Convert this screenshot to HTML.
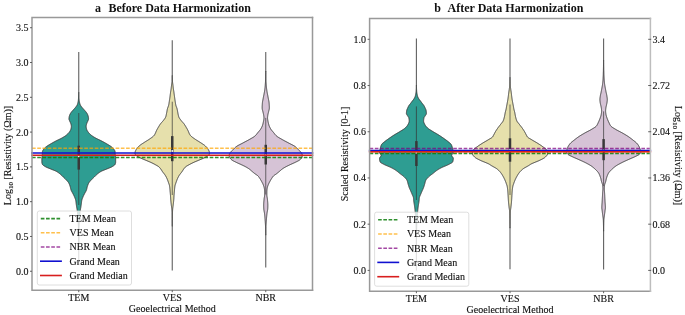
<!DOCTYPE html>
<html><head><meta charset="utf-8"><style>
html,body{margin:0;padding:0;background:#fff;}
svg{display:block;will-change:transform;}
.t{font-family:"Liberation Serif",serif;font-size:10px;fill:#111;stroke:#111;stroke-width:0.12px;}
.tt{font-family:"Liberation Serif",serif;font-size:12px;font-weight:bold;fill:#111;white-space:pre;}
</style></head><body>
<svg width="685" height="315" viewBox="0 0 685 315">
<rect width="685" height="315" fill="#fff"/>
<line x1="78.75" y1="52" x2="78.75" y2="92.55" stroke="#606060" stroke-width="1.1"/>
<line x1="78.75" y1="245.70" x2="78.75" y2="265" stroke="#606060" stroke-width="1.1"/>
<path d="M78.75,92.25 L78.70,92.50 L78.69,92.75 L78.68,93.00 L78.67,93.25 L78.66,93.50 L78.66,93.75 L78.65,94.00 L78.64,94.25 L78.64,94.50 L78.63,94.75 L78.62,95.00 L78.61,95.25 L78.61,95.50 L78.60,95.75 L78.59,96.00 L78.58,96.25 L78.57,96.50 L78.56,96.75 L78.55,97.00 L78.54,97.25 L78.53,97.50 L78.51,97.75 L78.50,98.00 L78.49,98.25 L78.47,98.50 L78.46,98.75 L78.44,99.00 L78.43,99.25 L78.41,99.50 L78.39,99.75 L78.37,100.00 L78.35,100.25 L78.32,100.50 L78.29,100.75 L78.25,101.00 L78.21,101.25 L78.16,101.50 L78.11,101.75 L78.06,102.00 L78.00,102.25 L77.95,102.50 L77.89,102.75 L77.83,103.00 L77.77,103.25 L77.70,103.50 L77.63,103.75 L77.55,104.00 L77.46,104.25 L77.37,104.50 L77.27,104.75 L77.16,105.00 L77.03,105.25 L76.88,105.50 L76.72,105.75 L76.55,106.00 L76.37,106.25 L76.18,106.50 L75.99,106.75 L75.80,107.00 L75.61,107.25 L75.42,107.50 L75.21,107.75 L74.99,108.00 L74.77,108.25 L74.55,108.50 L74.32,108.75 L74.10,109.00 L73.87,109.25 L73.65,109.50 L73.43,109.75 L73.20,110.00 L72.97,110.25 L72.74,110.50 L72.52,110.75 L72.29,111.00 L72.07,111.25 L71.86,111.50 L71.66,111.75 L71.48,112.00 L71.29,112.25 L71.10,112.50 L70.92,112.75 L70.75,113.00 L70.58,113.25 L70.43,113.50 L70.28,113.75 L70.15,114.00 L70.03,114.25 L69.92,114.50 L69.81,114.75 L69.71,115.00 L69.61,115.25 L69.52,115.50 L69.44,115.75 L69.36,116.00 L69.30,116.25 L69.25,116.50 L69.20,116.75 L69.16,117.00 L69.12,117.25 L69.07,117.50 L69.04,117.75 L69.01,118.00 L68.98,118.25 L68.96,118.50 L68.95,118.75 L68.95,119.00 L68.98,119.25 L69.04,119.50 L69.12,119.75 L69.22,120.00 L69.33,120.25 L69.44,120.50 L69.55,120.75 L69.65,121.00 L69.75,121.25 L69.86,121.50 L69.98,121.75 L70.11,122.00 L70.23,122.25 L70.35,122.50 L70.47,122.75 L70.57,123.00 L70.67,123.25 L70.75,123.50 L70.82,123.75 L70.89,124.00 L70.97,124.25 L71.04,124.50 L71.10,124.75 L71.16,125.00 L71.22,125.25 L71.27,125.50 L71.31,125.75 L71.33,126.00 L71.35,126.25 L71.35,126.50 L71.34,126.75 L71.32,127.00 L71.29,127.25 L71.26,127.50 L71.21,127.75 L71.17,128.00 L71.11,128.25 L71.05,128.50 L70.99,128.75 L70.93,129.00 L70.86,129.25 L70.79,129.50 L70.70,129.75 L70.60,130.00 L70.48,130.25 L70.35,130.50 L70.20,130.75 L70.05,131.00 L69.89,131.25 L69.72,131.50 L69.54,131.75 L69.37,132.00 L69.19,132.25 L69.00,132.50 L68.80,132.75 L68.59,133.00 L68.36,133.25 L68.13,133.50 L67.88,133.75 L67.62,134.00 L67.35,134.25 L67.07,134.50 L66.79,134.75 L66.49,135.00 L66.19,135.25 L65.87,135.50 L65.54,135.75 L65.18,136.00 L64.81,136.25 L64.43,136.50 L64.04,136.75 L63.63,137.00 L63.22,137.25 L62.79,137.50 L62.36,137.75 L61.93,138.00 L61.48,138.25 L61.01,138.50 L60.52,138.75 L60.01,139.00 L59.49,139.25 L58.96,139.50 L58.43,139.75 L57.89,140.00 L57.36,140.25 L56.84,140.50 L56.34,140.75 L55.85,141.00 L55.38,141.25 L54.91,141.50 L54.44,141.75 L53.98,142.00 L53.53,142.25 L53.08,142.50 L52.63,142.75 L52.19,143.00 L51.76,143.25 L51.33,143.50 L50.90,143.75 L50.48,144.00 L50.06,144.25 L49.63,144.50 L49.21,144.75 L48.79,145.00 L48.37,145.25 L47.96,145.50 L47.57,145.75 L47.18,146.00 L46.81,146.25 L46.46,146.50 L46.14,146.75 L45.83,147.00 L45.53,147.25 L45.25,147.50 L44.97,147.75 L44.70,148.00 L44.45,148.25 L44.21,148.50 L43.99,148.75 L43.79,149.00 L43.62,149.25 L43.44,149.50 L43.27,149.75 L43.10,150.00 L42.94,150.25 L42.80,150.50 L42.67,150.75 L42.57,151.00 L42.49,151.25 L42.45,151.50 L42.42,151.75 L42.40,152.00 L42.39,152.25 L42.37,152.50 L42.36,152.75 L42.35,153.00 L42.34,153.25 L42.33,153.50 L42.32,153.75 L42.31,154.00 L42.30,154.25 L42.28,154.50 L42.27,154.75 L42.25,155.00 L42.23,155.25 L42.20,155.50 L42.17,155.75 L42.13,156.00 L42.09,156.25 L42.06,156.50 L42.02,156.75 L41.98,157.00 L41.94,157.25 L41.91,157.50 L41.89,157.75 L41.87,158.00 L41.85,158.25 L41.85,158.50 L41.85,158.75 L41.85,159.00 L41.85,159.25 L41.85,159.50 L41.85,159.75 L41.85,160.00 L41.85,160.25 L41.85,160.50 L41.85,160.75 L41.85,161.00 L41.85,161.25 L41.85,161.50 L41.85,161.75 L41.85,162.00 L41.86,162.25 L41.88,162.50 L41.92,162.75 L41.97,163.00 L42.04,163.25 L42.11,163.50 L42.20,163.75 L42.29,164.00 L42.39,164.25 L42.50,164.50 L42.67,164.75 L42.90,165.00 L43.19,165.25 L43.52,165.50 L43.89,165.75 L44.28,166.00 L44.70,166.25 L45.11,166.50 L45.53,166.75 L46.00,167.00 L46.51,167.25 L47.07,167.50 L47.66,167.75 L48.28,168.00 L48.90,168.25 L49.53,168.50 L50.15,168.75 L50.75,169.00 L51.35,169.25 L51.98,169.50 L52.62,169.75 L53.27,170.00 L53.90,170.25 L54.53,170.50 L55.12,170.75 L55.67,171.00 L56.18,171.25 L56.62,171.50 L57.04,171.75 L57.44,172.00 L57.82,172.25 L58.19,172.50 L58.54,172.75 L58.87,173.00 L59.20,173.25 L59.51,173.50 L59.82,173.75 L60.12,174.00 L60.41,174.25 L60.70,174.50 L60.98,174.75 L61.26,175.00 L61.53,175.25 L61.79,175.50 L62.04,175.75 L62.28,176.00 L62.52,176.25 L62.76,176.50 L63.00,176.75 L63.25,177.00 L63.51,177.25 L63.77,177.50 L64.04,177.75 L64.31,178.00 L64.58,178.25 L64.85,178.50 L65.11,178.75 L65.36,179.00 L65.61,179.25 L65.85,179.50 L66.08,179.75 L66.32,180.00 L66.55,180.25 L66.79,180.50 L67.02,180.75 L67.25,181.00 L67.47,181.25 L67.69,181.50 L67.89,181.75 L68.09,182.00 L68.27,182.25 L68.45,182.50 L68.61,182.75 L68.75,183.00 L68.88,183.25 L69.01,183.50 L69.13,183.75 L69.24,184.00 L69.35,184.25 L69.45,184.50 L69.55,184.75 L69.64,185.00 L69.73,185.25 L69.82,185.50 L69.91,185.75 L69.99,186.00 L70.07,186.25 L70.15,186.50 L70.22,186.75 L70.29,187.00 L70.36,187.25 L70.42,187.50 L70.48,187.75 L70.53,188.00 L70.59,188.25 L70.64,188.50 L70.70,188.75 L70.76,189.00 L70.82,189.25 L70.89,189.50 L70.97,189.75 L71.05,190.00 L71.14,190.25 L71.25,190.50 L71.36,190.75 L71.48,191.00 L71.61,191.25 L71.74,191.50 L71.88,191.75 L72.02,192.00 L72.17,192.25 L72.31,192.50 L72.45,192.75 L72.59,193.00 L72.72,193.25 L72.85,193.50 L72.98,193.75 L73.10,194.00 L73.23,194.25 L73.36,194.50 L73.49,194.75 L73.62,195.00 L73.74,195.25 L73.87,195.50 L73.99,195.75 L74.11,196.00 L74.23,196.25 L74.34,196.50 L74.45,196.75 L74.55,197.00 L74.65,197.25 L74.75,197.50 L74.85,197.75 L74.95,198.00 L75.05,198.25 L75.15,198.50 L75.24,198.75 L75.33,199.00 L75.42,199.25 L75.50,199.50 L75.57,199.75 L75.64,200.00 L75.70,200.25 L75.75,200.50 L75.80,200.75 L75.84,201.00 L75.87,201.25 L75.91,201.50 L75.94,201.75 L75.97,202.00 L76.00,202.25 L76.03,202.50 L76.06,202.75 L76.09,203.00 L76.12,203.25 L76.15,203.50 L76.18,203.75 L76.22,204.00 L76.25,204.25 L76.29,204.50 L76.32,204.75 L76.36,205.00 L76.39,205.25 L76.43,205.50 L76.46,205.75 L76.50,206.00 L76.54,206.25 L76.57,206.50 L76.61,206.75 L76.65,207.00 L76.69,207.25 L76.73,207.50 L76.78,207.75 L76.82,208.00 L76.87,208.25 L76.92,208.50 L76.96,208.75 L77.01,209.00 L77.05,209.25 L77.09,209.50 L77.13,209.75 L77.16,210.00 L77.20,210.25 L77.23,210.50 L77.26,210.75 L77.29,211.00 L77.33,211.25 L77.36,211.50 L77.39,211.75 L77.42,212.00 L77.45,212.25 L77.48,212.50 L77.51,212.75 L77.53,213.00 L77.56,213.25 L77.59,213.50 L77.62,213.75 L77.64,214.00 L77.67,214.25 L77.69,214.50 L77.72,214.75 L77.74,215.00 L77.77,215.25 L77.79,215.50 L77.81,215.75 L77.83,216.00 L77.85,216.25 L77.87,216.50 L77.89,216.75 L77.91,217.00 L77.93,217.25 L77.95,217.50 L77.97,217.75 L77.99,218.00 L78.00,218.25 L78.02,218.50 L78.04,218.75 L78.05,219.00 L78.07,219.25 L78.09,219.50 L78.10,219.75 L78.12,220.00 L78.13,220.25 L78.15,220.50 L78.16,220.75 L78.18,221.00 L78.19,221.25 L78.21,221.50 L78.22,221.75 L78.24,222.00 L78.25,222.25 L78.26,222.50 L78.28,222.75 L78.29,223.00 L78.30,223.25 L78.31,223.50 L78.33,223.75 L78.34,224.00 L78.35,224.25 L78.36,224.50 L78.37,224.75 L78.38,225.00 L78.39,225.25 L78.40,225.50 L78.41,225.75 L78.42,226.00 L78.43,226.25 L78.44,226.50 L78.45,226.75 L78.45,227.00 L78.46,227.25 L78.47,227.50 L78.48,227.75 L78.48,228.00 L78.49,228.25 L78.50,228.50 L78.50,228.75 L78.51,229.00 L78.52,229.25 L78.52,229.50 L78.53,229.75 L78.54,230.00 L78.54,230.25 L78.55,230.50 L78.56,230.75 L78.56,231.00 L78.57,231.25 L78.57,231.50 L78.58,231.75 L78.58,232.00 L78.59,232.25 L78.59,232.50 L78.60,232.75 L78.60,233.00 L78.61,233.25 L78.61,233.50 L78.61,233.75 L78.62,234.00 L78.62,234.25 L78.62,234.50 L78.63,234.75 L78.63,235.00 L78.63,235.25 L78.64,235.50 L78.64,235.75 L78.64,236.00 L78.64,236.25 L78.64,236.50 L78.65,236.75 L78.65,237.00 L78.65,237.25 L78.65,237.50 L78.65,237.75 L78.65,238.00 L78.66,238.25 L78.66,238.50 L78.66,238.75 L78.66,239.00 L78.66,239.25 L78.66,239.50 L78.66,239.75 L78.66,240.00 L78.67,240.25 L78.67,240.50 L78.67,240.75 L78.67,241.00 L78.67,241.25 L78.67,241.50 L78.67,241.75 L78.68,242.00 L78.68,242.25 L78.68,242.50 L78.68,242.75 L78.68,243.00 L78.68,243.25 L78.69,243.50 L78.69,243.75 L78.69,244.00 L78.69,244.25 L78.69,244.50 L78.70,244.75 L78.70,245.00 L78.70,245.25 L78.71,245.50 L78.71,245.75 L78.75,246.00 L78.75,246.00 L78.79,245.75 L78.79,245.50 L78.80,245.25 L78.80,245.00 L78.80,244.75 L78.81,244.50 L78.81,244.25 L78.81,244.00 L78.81,243.75 L78.81,243.50 L78.82,243.25 L78.82,243.00 L78.82,242.75 L78.82,242.50 L78.82,242.25 L78.82,242.00 L78.83,241.75 L78.83,241.50 L78.83,241.25 L78.83,241.00 L78.83,240.75 L78.83,240.50 L78.83,240.25 L78.84,240.00 L78.84,239.75 L78.84,239.50 L78.84,239.25 L78.84,239.00 L78.84,238.75 L78.84,238.50 L78.84,238.25 L78.85,238.00 L78.85,237.75 L78.85,237.50 L78.85,237.25 L78.85,237.00 L78.85,236.75 L78.86,236.50 L78.86,236.25 L78.86,236.00 L78.86,235.75 L78.86,235.50 L78.87,235.25 L78.87,235.00 L78.87,234.75 L78.88,234.50 L78.88,234.25 L78.88,234.00 L78.89,233.75 L78.89,233.50 L78.89,233.25 L78.90,233.00 L78.90,232.75 L78.91,232.50 L78.91,232.25 L78.92,232.00 L78.92,231.75 L78.93,231.50 L78.93,231.25 L78.94,231.00 L78.94,230.75 L78.95,230.50 L78.96,230.25 L78.96,230.00 L78.97,229.75 L78.98,229.50 L78.98,229.25 L78.99,229.00 L79.00,228.75 L79.00,228.50 L79.01,228.25 L79.02,228.00 L79.02,227.75 L79.03,227.50 L79.04,227.25 L79.05,227.00 L79.05,226.75 L79.06,226.50 L79.07,226.25 L79.08,226.00 L79.09,225.75 L79.10,225.50 L79.11,225.25 L79.12,225.00 L79.13,224.75 L79.14,224.50 L79.15,224.25 L79.16,224.00 L79.17,223.75 L79.19,223.50 L79.20,223.25 L79.21,223.00 L79.22,222.75 L79.24,222.50 L79.25,222.25 L79.26,222.00 L79.28,221.75 L79.29,221.50 L79.31,221.25 L79.32,221.00 L79.34,220.75 L79.35,220.50 L79.37,220.25 L79.38,220.00 L79.40,219.75 L79.41,219.50 L79.43,219.25 L79.45,219.00 L79.46,218.75 L79.48,218.50 L79.50,218.25 L79.51,218.00 L79.53,217.75 L79.55,217.50 L79.57,217.25 L79.59,217.00 L79.61,216.75 L79.63,216.50 L79.65,216.25 L79.67,216.00 L79.69,215.75 L79.71,215.50 L79.73,215.25 L79.76,215.00 L79.78,214.75 L79.81,214.50 L79.83,214.25 L79.86,214.00 L79.88,213.75 L79.91,213.50 L79.94,213.25 L79.97,213.00 L79.99,212.75 L80.02,212.50 L80.05,212.25 L80.08,212.00 L80.11,211.75 L80.14,211.50 L80.17,211.25 L80.21,211.00 L80.24,210.75 L80.27,210.50 L80.30,210.25 L80.34,210.00 L80.37,209.75 L80.41,209.50 L80.45,209.25 L80.49,209.00 L80.54,208.75 L80.58,208.50 L80.63,208.25 L80.68,208.00 L80.72,207.75 L80.77,207.50 L80.81,207.25 L80.85,207.00 L80.89,206.75 L80.93,206.50 L80.96,206.25 L81.00,206.00 L81.04,205.75 L81.07,205.50 L81.11,205.25 L81.14,205.00 L81.18,204.75 L81.21,204.50 L81.25,204.25 L81.28,204.00 L81.32,203.75 L81.35,203.50 L81.38,203.25 L81.41,203.00 L81.44,202.75 L81.47,202.50 L81.50,202.25 L81.53,202.00 L81.56,201.75 L81.59,201.50 L81.63,201.25 L81.66,201.00 L81.70,200.75 L81.75,200.50 L81.80,200.25 L81.86,200.00 L81.93,199.75 L82.00,199.50 L82.08,199.25 L82.17,199.00 L82.26,198.75 L82.35,198.50 L82.45,198.25 L82.55,198.00 L82.65,197.75 L82.75,197.50 L82.85,197.25 L82.95,197.00 L83.05,196.75 L83.16,196.50 L83.27,196.25 L83.39,196.00 L83.51,195.75 L83.63,195.50 L83.76,195.25 L83.88,195.00 L84.01,194.75 L84.14,194.50 L84.27,194.25 L84.40,194.00 L84.52,193.75 L84.65,193.50 L84.78,193.25 L84.91,193.00 L85.05,192.75 L85.19,192.50 L85.33,192.25 L85.48,192.00 L85.62,191.75 L85.76,191.50 L85.89,191.25 L86.02,191.00 L86.14,190.75 L86.25,190.50 L86.36,190.25 L86.45,190.00 L86.53,189.75 L86.61,189.50 L86.68,189.25 L86.74,189.00 L86.80,188.75 L86.86,188.50 L86.91,188.25 L86.97,188.00 L87.02,187.75 L87.08,187.50 L87.14,187.25 L87.21,187.00 L87.28,186.75 L87.35,186.50 L87.43,186.25 L87.51,186.00 L87.59,185.75 L87.68,185.50 L87.77,185.25 L87.86,185.00 L87.95,184.75 L88.05,184.50 L88.15,184.25 L88.26,184.00 L88.37,183.75 L88.49,183.50 L88.62,183.25 L88.75,183.00 L88.89,182.75 L89.05,182.50 L89.23,182.25 L89.41,182.00 L89.61,181.75 L89.81,181.50 L90.03,181.25 L90.25,181.00 L90.48,180.75 L90.71,180.50 L90.95,180.25 L91.18,180.00 L91.42,179.75 L91.65,179.50 L91.89,179.25 L92.14,179.00 L92.39,178.75 L92.65,178.50 L92.92,178.25 L93.19,178.00 L93.46,177.75 L93.73,177.50 L93.99,177.25 L94.25,177.00 L94.50,176.75 L94.74,176.50 L94.98,176.25 L95.22,176.00 L95.46,175.75 L95.71,175.50 L95.97,175.25 L96.24,175.00 L96.52,174.75 L96.80,174.50 L97.09,174.25 L97.38,174.00 L97.68,173.75 L97.99,173.50 L98.30,173.25 L98.63,173.00 L98.96,172.75 L99.31,172.50 L99.68,172.25 L100.06,172.00 L100.46,171.75 L100.88,171.50 L101.32,171.25 L101.83,171.00 L102.38,170.75 L102.97,170.50 L103.60,170.25 L104.23,170.00 L104.88,169.75 L105.52,169.50 L106.15,169.25 L106.75,169.00 L107.35,168.75 L107.97,168.50 L108.60,168.25 L109.22,168.00 L109.84,167.75 L110.43,167.50 L110.99,167.25 L111.50,167.00 L111.97,166.75 L112.39,166.50 L112.80,166.25 L113.22,166.00 L113.61,165.75 L113.98,165.50 L114.31,165.25 L114.60,165.00 L114.83,164.75 L115.00,164.50 L115.11,164.25 L115.21,164.00 L115.30,163.75 L115.39,163.50 L115.46,163.25 L115.53,163.00 L115.58,162.75 L115.62,162.50 L115.64,162.25 L115.65,162.00 L115.65,161.75 L115.65,161.50 L115.65,161.25 L115.65,161.00 L115.65,160.75 L115.65,160.50 L115.65,160.25 L115.65,160.00 L115.65,159.75 L115.65,159.50 L115.65,159.25 L115.65,159.00 L115.65,158.75 L115.65,158.50 L115.65,158.25 L115.63,158.00 L115.61,157.75 L115.59,157.50 L115.56,157.25 L115.52,157.00 L115.48,156.75 L115.44,156.50 L115.41,156.25 L115.37,156.00 L115.33,155.75 L115.30,155.50 L115.27,155.25 L115.25,155.00 L115.23,154.75 L115.22,154.50 L115.20,154.25 L115.19,154.00 L115.18,153.75 L115.17,153.50 L115.16,153.25 L115.15,153.00 L115.14,152.75 L115.13,152.50 L115.11,152.25 L115.10,152.00 L115.08,151.75 L115.05,151.50 L115.01,151.25 L114.93,151.00 L114.83,150.75 L114.70,150.50 L114.56,150.25 L114.40,150.00 L114.23,149.75 L114.06,149.50 L113.88,149.25 L113.71,149.00 L113.51,148.75 L113.29,148.50 L113.05,148.25 L112.80,148.00 L112.53,147.75 L112.25,147.50 L111.97,147.25 L111.67,147.00 L111.36,146.75 L111.04,146.50 L110.69,146.25 L110.32,146.00 L109.93,145.75 L109.54,145.50 L109.13,145.25 L108.71,145.00 L108.29,144.75 L107.87,144.50 L107.44,144.25 L107.02,144.00 L106.60,143.75 L106.17,143.50 L105.74,143.25 L105.31,143.00 L104.87,142.75 L104.42,142.50 L103.97,142.25 L103.52,142.00 L103.06,141.75 L102.59,141.50 L102.12,141.25 L101.65,141.00 L101.16,140.75 L100.66,140.50 L100.14,140.25 L99.61,140.00 L99.07,139.75 L98.54,139.50 L98.01,139.25 L97.49,139.00 L96.98,138.75 L96.49,138.50 L96.02,138.25 L95.57,138.00 L95.14,137.75 L94.71,137.50 L94.28,137.25 L93.87,137.00 L93.46,136.75 L93.07,136.50 L92.69,136.25 L92.32,136.00 L91.96,135.75 L91.63,135.50 L91.31,135.25 L91.01,135.00 L90.71,134.75 L90.43,134.50 L90.15,134.25 L89.88,134.00 L89.62,133.75 L89.37,133.50 L89.14,133.25 L88.91,133.00 L88.70,132.75 L88.50,132.50 L88.31,132.25 L88.13,132.00 L87.96,131.75 L87.78,131.50 L87.61,131.25 L87.45,131.00 L87.30,130.75 L87.15,130.50 L87.02,130.25 L86.90,130.00 L86.80,129.75 L86.71,129.50 L86.64,129.25 L86.57,129.00 L86.51,128.75 L86.45,128.50 L86.39,128.25 L86.33,128.00 L86.29,127.75 L86.24,127.50 L86.21,127.25 L86.18,127.00 L86.16,126.75 L86.15,126.50 L86.15,126.25 L86.17,126.00 L86.19,125.75 L86.23,125.50 L86.28,125.25 L86.34,125.00 L86.40,124.75 L86.46,124.50 L86.53,124.25 L86.61,124.00 L86.68,123.75 L86.75,123.50 L86.83,123.25 L86.93,123.00 L87.03,122.75 L87.15,122.50 L87.27,122.25 L87.39,122.00 L87.52,121.75 L87.64,121.50 L87.75,121.25 L87.85,121.00 L87.95,120.75 L88.06,120.50 L88.17,120.25 L88.28,120.00 L88.38,119.75 L88.46,119.50 L88.52,119.25 L88.55,119.00 L88.55,118.75 L88.54,118.50 L88.52,118.25 L88.49,118.00 L88.46,117.75 L88.43,117.50 L88.38,117.25 L88.34,117.00 L88.30,116.75 L88.25,116.50 L88.20,116.25 L88.14,116.00 L88.06,115.75 L87.98,115.50 L87.89,115.25 L87.79,115.00 L87.69,114.75 L87.58,114.50 L87.47,114.25 L87.35,114.00 L87.22,113.75 L87.07,113.50 L86.92,113.25 L86.75,113.00 L86.58,112.75 L86.40,112.50 L86.21,112.25 L86.02,112.00 L85.84,111.75 L85.64,111.50 L85.43,111.25 L85.21,111.00 L84.98,110.75 L84.76,110.50 L84.53,110.25 L84.30,110.00 L84.07,109.75 L83.85,109.50 L83.63,109.25 L83.40,109.00 L83.18,108.75 L82.95,108.50 L82.73,108.25 L82.51,108.00 L82.29,107.75 L82.08,107.50 L81.89,107.25 L81.70,107.00 L81.51,106.75 L81.32,106.50 L81.13,106.25 L80.95,106.00 L80.78,105.75 L80.62,105.50 L80.47,105.25 L80.34,105.00 L80.23,104.75 L80.13,104.50 L80.04,104.25 L79.95,104.00 L79.87,103.75 L79.80,103.50 L79.73,103.25 L79.67,103.00 L79.61,102.75 L79.55,102.50 L79.50,102.25 L79.44,102.00 L79.39,101.75 L79.34,101.50 L79.29,101.25 L79.25,101.00 L79.21,100.75 L79.18,100.50 L79.15,100.25 L79.13,100.00 L79.11,99.75 L79.09,99.50 L79.07,99.25 L79.06,99.00 L79.04,98.75 L79.03,98.50 L79.01,98.25 L79.00,98.00 L78.99,97.75 L78.97,97.50 L78.96,97.25 L78.95,97.00 L78.94,96.75 L78.93,96.50 L78.92,96.25 L78.91,96.00 L78.90,95.75 L78.89,95.50 L78.89,95.25 L78.88,95.00 L78.87,94.75 L78.86,94.50 L78.86,94.25 L78.85,94.00 L78.84,93.75 L78.84,93.50 L78.83,93.25 L78.82,93.00 L78.81,92.75 L78.80,92.50 L78.75,92.25 Z" fill="#2e9d92" stroke="#3a3a3a" stroke-width="1.0" stroke-linejoin="round"/>
<line x1="78.75" y1="113.00" x2="78.75" y2="205.00" stroke="#333333" stroke-width="0.7"/>
<line x1="78.75" y1="145.7" x2="78.75" y2="169.6" stroke="#383838" stroke-width="2.5"/>
<circle cx="78.75" cy="156.2" r="1.0" fill="#f4f4f4"/>
<line x1="172.25" y1="40.2" x2="172.25" y2="76.00" stroke="#606060" stroke-width="1.1"/>
<line x1="172.25" y1="225.90" x2="172.25" y2="270.5" stroke="#606060" stroke-width="1.1"/>
<path d="M172.25,75.70 L172.20,75.95 L172.19,76.20 L172.18,76.45 L172.18,76.70 L172.17,76.95 L172.16,77.20 L172.15,77.45 L172.15,77.70 L172.14,77.95 L172.13,78.20 L172.13,78.45 L172.12,78.70 L172.11,78.95 L172.10,79.20 L172.09,79.45 L172.08,79.70 L172.07,79.95 L172.06,80.20 L172.05,80.45 L172.03,80.70 L172.02,80.95 L172.00,81.20 L171.99,81.45 L171.97,81.70 L171.95,81.95 L171.93,82.20 L171.90,82.45 L171.88,82.70 L171.85,82.95 L171.82,83.20 L171.78,83.45 L171.74,83.70 L171.70,83.95 L171.67,84.20 L171.63,84.45 L171.59,84.70 L171.56,84.95 L171.53,85.20 L171.50,85.45 L171.47,85.70 L171.44,85.95 L171.41,86.20 L171.38,86.45 L171.36,86.70 L171.33,86.95 L171.30,87.20 L171.28,87.45 L171.25,87.70 L171.22,87.95 L171.19,88.20 L171.16,88.45 L171.12,88.70 L171.09,88.95 L171.05,89.20 L171.01,89.45 L170.98,89.70 L170.94,89.95 L170.90,90.20 L170.86,90.45 L170.81,90.70 L170.77,90.95 L170.73,91.20 L170.69,91.45 L170.65,91.70 L170.62,91.95 L170.58,92.20 L170.54,92.45 L170.51,92.70 L170.47,92.95 L170.44,93.20 L170.41,93.45 L170.38,93.70 L170.34,93.95 L170.31,94.20 L170.28,94.45 L170.25,94.70 L170.22,94.95 L170.19,95.20 L170.15,95.45 L170.12,95.70 L170.09,95.95 L170.06,96.20 L170.02,96.45 L169.99,96.70 L169.96,96.95 L169.92,97.20 L169.89,97.45 L169.85,97.70 L169.82,97.95 L169.78,98.20 L169.74,98.45 L169.71,98.70 L169.67,98.95 L169.63,99.20 L169.60,99.45 L169.56,99.70 L169.52,99.95 L169.48,100.20 L169.45,100.45 L169.41,100.70 L169.37,100.95 L169.33,101.20 L169.29,101.45 L169.25,101.70 L169.21,101.95 L169.17,102.20 L169.13,102.45 L169.10,102.70 L169.06,102.95 L169.02,103.20 L168.98,103.45 L168.94,103.70 L168.90,103.95 L168.85,104.20 L168.81,104.45 L168.76,104.70 L168.71,104.95 L168.65,105.20 L168.59,105.45 L168.52,105.70 L168.43,105.95 L168.35,106.20 L168.25,106.45 L168.16,106.70 L168.06,106.95 L167.96,107.20 L167.86,107.45 L167.77,107.70 L167.68,107.95 L167.60,108.20 L167.52,108.45 L167.45,108.70 L167.39,108.95 L167.33,109.20 L167.28,109.45 L167.22,109.70 L167.17,109.95 L167.12,110.20 L167.08,110.45 L167.03,110.70 L166.99,110.95 L166.94,111.20 L166.90,111.45 L166.85,111.70 L166.81,111.95 L166.76,112.20 L166.72,112.45 L166.67,112.70 L166.62,112.95 L166.57,113.20 L166.52,113.45 L166.47,113.70 L166.42,113.95 L166.37,114.20 L166.32,114.45 L166.27,114.70 L166.22,114.95 L166.17,115.20 L166.12,115.45 L166.06,115.70 L166.00,115.95 L165.93,116.20 L165.86,116.45 L165.78,116.70 L165.70,116.95 L165.59,117.20 L165.48,117.45 L165.34,117.70 L165.20,117.95 L165.05,118.20 L164.88,118.45 L164.71,118.70 L164.53,118.95 L164.35,119.20 L164.16,119.45 L163.97,119.70 L163.78,119.95 L163.60,120.20 L163.41,120.45 L163.22,120.70 L163.02,120.95 L162.80,121.20 L162.59,121.45 L162.36,121.70 L162.13,121.95 L161.90,122.20 L161.67,122.45 L161.44,122.70 L161.22,122.95 L161.00,123.20 L160.80,123.45 L160.60,123.70 L160.41,123.95 L160.24,124.20 L160.06,124.45 L159.89,124.70 L159.73,124.95 L159.57,125.20 L159.41,125.45 L159.26,125.70 L159.10,125.95 L158.95,126.20 L158.81,126.45 L158.66,126.70 L158.51,126.95 L158.37,127.20 L158.22,127.45 L158.08,127.70 L157.93,127.95 L157.79,128.20 L157.64,128.45 L157.50,128.70 L157.36,128.95 L157.22,129.20 L157.09,129.45 L156.95,129.70 L156.82,129.95 L156.69,130.20 L156.57,130.45 L156.45,130.70 L156.33,130.95 L156.21,131.20 L156.11,131.45 L156.01,131.70 L155.91,131.95 L155.81,132.20 L155.71,132.45 L155.61,132.70 L155.50,132.95 L155.39,133.20 L155.27,133.45 L155.15,133.70 L155.02,133.95 L154.89,134.20 L154.75,134.45 L154.60,134.70 L154.45,134.95 L154.27,135.20 L154.09,135.45 L153.88,135.70 L153.65,135.95 L153.40,136.20 L153.12,136.45 L152.82,136.70 L152.51,136.95 L152.18,137.20 L151.85,137.45 L151.50,137.70 L151.15,137.95 L150.79,138.20 L150.43,138.45 L150.07,138.70 L149.72,138.95 L149.37,139.20 L149.00,139.45 L148.62,139.70 L148.23,139.95 L147.83,140.20 L147.43,140.45 L147.03,140.70 L146.62,140.95 L146.21,141.20 L145.80,141.45 L145.40,141.70 L145.00,141.95 L144.61,142.20 L144.23,142.45 L143.85,142.70 L143.46,142.95 L143.08,143.20 L142.69,143.45 L142.30,143.70 L141.91,143.95 L141.53,144.20 L141.16,144.45 L140.79,144.70 L140.44,144.95 L140.10,145.20 L139.78,145.45 L139.48,145.70 L139.20,145.95 L138.94,146.20 L138.69,146.45 L138.44,146.70 L138.20,146.95 L137.97,147.20 L137.75,147.45 L137.53,147.70 L137.32,147.95 L137.12,148.20 L136.94,148.45 L136.76,148.70 L136.59,148.95 L136.43,149.20 L136.28,149.45 L136.14,149.70 L136.00,149.95 L135.86,150.20 L135.73,150.45 L135.61,150.70 L135.49,150.95 L135.39,151.20 L135.30,151.45 L135.22,151.70 L135.16,151.95 L135.11,152.20 L135.06,152.45 L135.02,152.70 L134.99,152.95 L134.96,153.20 L134.95,153.45 L134.97,153.70 L135.04,153.95 L135.16,154.20 L135.32,154.45 L135.52,154.70 L135.73,154.95 L135.97,155.20 L136.21,155.45 L136.45,155.70 L136.75,155.95 L137.11,156.20 L137.52,156.45 L137.96,156.70 L138.44,156.95 L138.93,157.20 L139.44,157.45 L139.95,157.70 L140.45,157.95 L140.97,158.20 L141.51,158.45 L142.08,158.70 L142.66,158.95 L143.26,159.20 L143.86,159.45 L144.46,159.70 L145.06,159.95 L145.65,160.20 L146.24,160.45 L146.84,160.70 L147.44,160.95 L148.04,161.20 L148.65,161.45 L149.24,161.70 L149.82,161.95 L150.39,162.20 L150.94,162.45 L151.47,162.70 L152.00,162.95 L152.51,163.20 L153.01,163.45 L153.51,163.70 L153.99,163.95 L154.46,164.20 L154.92,164.45 L155.37,164.70 L155.81,164.95 L156.26,165.20 L156.70,165.45 L157.14,165.70 L157.57,165.95 L157.97,166.20 L158.35,166.45 L158.69,166.70 L158.99,166.95 L159.26,167.20 L159.51,167.45 L159.73,167.70 L159.94,167.95 L160.14,168.20 L160.33,168.45 L160.52,168.70 L160.70,168.95 L160.88,169.20 L161.06,169.45 L161.23,169.70 L161.39,169.95 L161.55,170.20 L161.71,170.45 L161.87,170.70 L162.02,170.95 L162.18,171.20 L162.35,171.45 L162.52,171.70 L162.70,171.95 L162.88,172.20 L163.07,172.45 L163.27,172.70 L163.47,172.95 L163.66,173.20 L163.86,173.45 L164.06,173.70 L164.26,173.95 L164.45,174.20 L164.64,174.45 L164.82,174.70 L164.99,174.95 L165.16,175.20 L165.32,175.45 L165.47,175.70 L165.62,175.95 L165.76,176.20 L165.90,176.45 L166.04,176.70 L166.17,176.95 L166.30,177.20 L166.43,177.45 L166.55,177.70 L166.67,177.95 L166.79,178.20 L166.91,178.45 L167.02,178.70 L167.13,178.95 L167.24,179.20 L167.34,179.45 L167.44,179.70 L167.54,179.95 L167.64,180.20 L167.73,180.45 L167.82,180.70 L167.91,180.95 L168.00,181.20 L168.09,181.45 L168.18,181.70 L168.26,181.95 L168.35,182.20 L168.43,182.45 L168.52,182.70 L168.61,182.95 L168.70,183.20 L168.79,183.45 L168.88,183.70 L168.97,183.95 L169.06,184.20 L169.15,184.45 L169.23,184.70 L169.30,184.95 L169.37,185.20 L169.44,185.45 L169.49,185.70 L169.54,185.95 L169.58,186.20 L169.62,186.45 L169.65,186.70 L169.69,186.95 L169.72,187.20 L169.75,187.45 L169.77,187.70 L169.80,187.95 L169.83,188.20 L169.85,188.45 L169.87,188.70 L169.89,188.95 L169.92,189.20 L169.94,189.45 L169.96,189.70 L169.98,189.95 L170.00,190.20 L170.03,190.45 L170.05,190.70 L170.07,190.95 L170.10,191.20 L170.12,191.45 L170.14,191.70 L170.17,191.95 L170.19,192.20 L170.21,192.45 L170.24,192.70 L170.26,192.95 L170.28,193.20 L170.30,193.45 L170.32,193.70 L170.34,193.95 L170.36,194.20 L170.38,194.45 L170.40,194.70 L170.42,194.95 L170.44,195.20 L170.46,195.45 L170.48,195.70 L170.49,195.95 L170.51,196.20 L170.53,196.45 L170.54,196.70 L170.56,196.95 L170.57,197.20 L170.58,197.45 L170.60,197.70 L170.61,197.95 L170.63,198.20 L170.64,198.45 L170.66,198.70 L170.67,198.95 L170.69,199.20 L170.71,199.45 L170.73,199.70 L170.75,199.95 L170.77,200.20 L170.79,200.45 L170.81,200.70 L170.83,200.95 L170.86,201.20 L170.88,201.45 L170.91,201.70 L170.94,201.95 L170.96,202.20 L170.99,202.45 L171.02,202.70 L171.05,202.95 L171.08,203.20 L171.10,203.45 L171.13,203.70 L171.16,203.95 L171.19,204.20 L171.22,204.45 L171.25,204.70 L171.28,204.95 L171.31,205.20 L171.35,205.45 L171.38,205.70 L171.42,205.95 L171.45,206.20 L171.49,206.45 L171.53,206.70 L171.57,206.95 L171.60,207.20 L171.64,207.45 L171.67,207.70 L171.70,207.95 L171.74,208.20 L171.76,208.45 L171.79,208.70 L171.82,208.95 L171.84,209.20 L171.85,209.45 L171.87,209.70 L171.88,209.95 L171.90,210.20 L171.91,210.45 L171.93,210.70 L171.94,210.95 L171.95,211.20 L171.96,211.45 L171.97,211.70 L171.98,211.95 L171.99,212.20 L172.00,212.45 L172.01,212.70 L172.02,212.95 L172.03,213.20 L172.04,213.45 L172.04,213.70 L172.05,213.95 L172.05,214.20 L172.06,214.45 L172.07,214.70 L172.07,214.95 L172.08,215.20 L172.08,215.45 L172.09,215.70 L172.09,215.95 L172.10,216.20 L172.10,216.45 L172.10,216.70 L172.11,216.95 L172.11,217.20 L172.12,217.45 L172.12,217.70 L172.12,217.95 L172.13,218.20 L172.13,218.45 L172.13,218.70 L172.14,218.95 L172.14,219.20 L172.14,219.45 L172.15,219.70 L172.15,219.95 L172.15,220.20 L172.16,220.45 L172.16,220.70 L172.16,220.95 L172.16,221.20 L172.17,221.45 L172.17,221.70 L172.17,221.95 L172.17,222.20 L172.17,222.45 L172.18,222.70 L172.18,222.95 L172.18,223.20 L172.18,223.45 L172.18,223.70 L172.19,223.95 L172.19,224.20 L172.19,224.45 L172.19,224.70 L172.20,224.95 L172.20,225.20 L172.20,225.45 L172.21,225.70 L172.21,225.95 L172.25,226.20 L172.25,226.20 L172.29,225.95 L172.29,225.70 L172.30,225.45 L172.30,225.20 L172.30,224.95 L172.31,224.70 L172.31,224.45 L172.31,224.20 L172.31,223.95 L172.32,223.70 L172.32,223.45 L172.32,223.20 L172.32,222.95 L172.32,222.70 L172.33,222.45 L172.33,222.20 L172.33,221.95 L172.33,221.70 L172.33,221.45 L172.34,221.20 L172.34,220.95 L172.34,220.70 L172.34,220.45 L172.35,220.20 L172.35,219.95 L172.35,219.70 L172.36,219.45 L172.36,219.20 L172.36,218.95 L172.37,218.70 L172.37,218.45 L172.37,218.20 L172.38,217.95 L172.38,217.70 L172.38,217.45 L172.39,217.20 L172.39,216.95 L172.40,216.70 L172.40,216.45 L172.40,216.20 L172.41,215.95 L172.41,215.70 L172.42,215.45 L172.42,215.20 L172.43,214.95 L172.43,214.70 L172.44,214.45 L172.45,214.20 L172.45,213.95 L172.46,213.70 L172.46,213.45 L172.47,213.20 L172.48,212.95 L172.49,212.70 L172.50,212.45 L172.51,212.20 L172.52,211.95 L172.53,211.70 L172.54,211.45 L172.55,211.20 L172.56,210.95 L172.57,210.70 L172.59,210.45 L172.60,210.20 L172.62,209.95 L172.63,209.70 L172.65,209.45 L172.66,209.20 L172.68,208.95 L172.71,208.70 L172.74,208.45 L172.76,208.20 L172.80,207.95 L172.83,207.70 L172.86,207.45 L172.90,207.20 L172.93,206.95 L172.97,206.70 L173.01,206.45 L173.05,206.20 L173.08,205.95 L173.12,205.70 L173.15,205.45 L173.19,205.20 L173.22,204.95 L173.25,204.70 L173.28,204.45 L173.31,204.20 L173.34,203.95 L173.37,203.70 L173.40,203.45 L173.42,203.20 L173.45,202.95 L173.48,202.70 L173.51,202.45 L173.54,202.20 L173.56,201.95 L173.59,201.70 L173.62,201.45 L173.64,201.20 L173.67,200.95 L173.69,200.70 L173.71,200.45 L173.73,200.20 L173.75,199.95 L173.77,199.70 L173.79,199.45 L173.81,199.20 L173.83,198.95 L173.84,198.70 L173.86,198.45 L173.87,198.20 L173.89,197.95 L173.90,197.70 L173.92,197.45 L173.93,197.20 L173.94,196.95 L173.96,196.70 L173.97,196.45 L173.99,196.20 L174.01,195.95 L174.02,195.70 L174.04,195.45 L174.06,195.20 L174.08,194.95 L174.10,194.70 L174.12,194.45 L174.14,194.20 L174.16,193.95 L174.18,193.70 L174.20,193.45 L174.22,193.20 L174.24,192.95 L174.26,192.70 L174.29,192.45 L174.31,192.20 L174.33,191.95 L174.36,191.70 L174.38,191.45 L174.40,191.20 L174.43,190.95 L174.45,190.70 L174.47,190.45 L174.50,190.20 L174.52,189.95 L174.54,189.70 L174.56,189.45 L174.58,189.20 L174.61,188.95 L174.63,188.70 L174.65,188.45 L174.67,188.20 L174.70,187.95 L174.73,187.70 L174.75,187.45 L174.78,187.20 L174.81,186.95 L174.85,186.70 L174.88,186.45 L174.92,186.20 L174.96,185.95 L175.01,185.70 L175.06,185.45 L175.13,185.20 L175.20,184.95 L175.27,184.70 L175.35,184.45 L175.44,184.20 L175.53,183.95 L175.62,183.70 L175.71,183.45 L175.80,183.20 L175.89,182.95 L175.98,182.70 L176.07,182.45 L176.15,182.20 L176.24,181.95 L176.32,181.70 L176.41,181.45 L176.50,181.20 L176.59,180.95 L176.68,180.70 L176.77,180.45 L176.86,180.20 L176.96,179.95 L177.06,179.70 L177.16,179.45 L177.26,179.20 L177.37,178.95 L177.48,178.70 L177.59,178.45 L177.71,178.20 L177.83,177.95 L177.95,177.70 L178.07,177.45 L178.20,177.20 L178.33,176.95 L178.46,176.70 L178.60,176.45 L178.74,176.20 L178.88,175.95 L179.03,175.70 L179.18,175.45 L179.34,175.20 L179.51,174.95 L179.68,174.70 L179.86,174.45 L180.05,174.20 L180.24,173.95 L180.44,173.70 L180.64,173.45 L180.84,173.20 L181.03,172.95 L181.23,172.70 L181.43,172.45 L181.62,172.20 L181.80,171.95 L181.98,171.70 L182.15,171.45 L182.32,171.20 L182.48,170.95 L182.63,170.70 L182.79,170.45 L182.95,170.20 L183.11,169.95 L183.27,169.70 L183.44,169.45 L183.62,169.20 L183.80,168.95 L183.98,168.70 L184.17,168.45 L184.36,168.20 L184.56,167.95 L184.77,167.70 L184.99,167.45 L185.24,167.20 L185.51,166.95 L185.81,166.70 L186.15,166.45 L186.53,166.20 L186.93,165.95 L187.36,165.70 L187.80,165.45 L188.24,165.20 L188.69,164.95 L189.13,164.70 L189.58,164.45 L190.04,164.20 L190.51,163.95 L190.99,163.70 L191.49,163.45 L191.99,163.20 L192.50,162.95 L193.03,162.70 L193.56,162.45 L194.11,162.20 L194.68,161.95 L195.26,161.70 L195.85,161.45 L196.46,161.20 L197.06,160.95 L197.66,160.70 L198.26,160.45 L198.85,160.20 L199.44,159.95 L200.04,159.70 L200.64,159.45 L201.24,159.20 L201.84,158.95 L202.42,158.70 L202.99,158.45 L203.53,158.20 L204.05,157.95 L204.55,157.70 L205.06,157.45 L205.57,157.20 L206.06,156.95 L206.54,156.70 L206.98,156.45 L207.39,156.20 L207.75,155.95 L208.05,155.70 L208.29,155.45 L208.53,155.20 L208.77,154.95 L208.98,154.70 L209.18,154.45 L209.34,154.20 L209.46,153.95 L209.53,153.70 L209.55,153.45 L209.54,153.20 L209.51,152.95 L209.48,152.70 L209.44,152.45 L209.39,152.20 L209.34,151.95 L209.28,151.70 L209.20,151.45 L209.11,151.20 L209.01,150.95 L208.89,150.70 L208.77,150.45 L208.64,150.20 L208.50,149.95 L208.36,149.70 L208.22,149.45 L208.07,149.20 L207.91,148.95 L207.74,148.70 L207.56,148.45 L207.38,148.20 L207.18,147.95 L206.97,147.70 L206.75,147.45 L206.53,147.20 L206.30,146.95 L206.06,146.70 L205.81,146.45 L205.56,146.20 L205.30,145.95 L205.02,145.70 L204.72,145.45 L204.40,145.20 L204.06,144.95 L203.71,144.70 L203.34,144.45 L202.97,144.20 L202.59,143.95 L202.20,143.70 L201.81,143.45 L201.42,143.20 L201.04,142.95 L200.65,142.70 L200.27,142.45 L199.89,142.20 L199.50,141.95 L199.10,141.70 L198.70,141.45 L198.29,141.20 L197.88,140.95 L197.47,140.70 L197.07,140.45 L196.67,140.20 L196.27,139.95 L195.88,139.70 L195.50,139.45 L195.13,139.20 L194.78,138.95 L194.43,138.70 L194.07,138.45 L193.71,138.20 L193.35,137.95 L193.00,137.70 L192.65,137.45 L192.32,137.20 L191.99,136.95 L191.68,136.70 L191.38,136.45 L191.10,136.20 L190.85,135.95 L190.62,135.70 L190.41,135.45 L190.23,135.20 L190.05,134.95 L189.90,134.70 L189.75,134.45 L189.61,134.20 L189.48,133.95 L189.35,133.70 L189.23,133.45 L189.11,133.20 L189.00,132.95 L188.89,132.70 L188.79,132.45 L188.69,132.20 L188.59,131.95 L188.49,131.70 L188.39,131.45 L188.29,131.20 L188.17,130.95 L188.05,130.70 L187.93,130.45 L187.81,130.20 L187.68,129.95 L187.55,129.70 L187.41,129.45 L187.28,129.20 L187.14,128.95 L187.00,128.70 L186.86,128.45 L186.71,128.20 L186.57,127.95 L186.42,127.70 L186.28,127.45 L186.13,127.20 L185.99,126.95 L185.84,126.70 L185.69,126.45 L185.55,126.20 L185.40,125.95 L185.24,125.70 L185.09,125.45 L184.93,125.20 L184.77,124.95 L184.61,124.70 L184.44,124.45 L184.26,124.20 L184.09,123.95 L183.90,123.70 L183.70,123.45 L183.50,123.20 L183.28,122.95 L183.06,122.70 L182.83,122.45 L182.60,122.20 L182.37,121.95 L182.14,121.70 L181.91,121.45 L181.70,121.20 L181.48,120.95 L181.28,120.70 L181.09,120.45 L180.90,120.20 L180.72,119.95 L180.53,119.70 L180.34,119.45 L180.15,119.20 L179.97,118.95 L179.79,118.70 L179.62,118.45 L179.45,118.20 L179.30,117.95 L179.16,117.70 L179.02,117.45 L178.91,117.20 L178.80,116.95 L178.72,116.70 L178.64,116.45 L178.57,116.20 L178.50,115.95 L178.44,115.70 L178.38,115.45 L178.33,115.20 L178.28,114.95 L178.23,114.70 L178.18,114.45 L178.13,114.20 L178.08,113.95 L178.03,113.70 L177.98,113.45 L177.93,113.20 L177.88,112.95 L177.83,112.70 L177.78,112.45 L177.74,112.20 L177.69,111.95 L177.65,111.70 L177.60,111.45 L177.56,111.20 L177.51,110.95 L177.47,110.70 L177.42,110.45 L177.38,110.20 L177.33,109.95 L177.28,109.70 L177.22,109.45 L177.17,109.20 L177.11,108.95 L177.05,108.70 L176.98,108.45 L176.90,108.20 L176.82,107.95 L176.73,107.70 L176.64,107.45 L176.54,107.20 L176.44,106.95 L176.34,106.70 L176.25,106.45 L176.15,106.20 L176.07,105.95 L175.98,105.70 L175.91,105.45 L175.85,105.20 L175.79,104.95 L175.74,104.70 L175.69,104.45 L175.65,104.20 L175.60,103.95 L175.56,103.70 L175.52,103.45 L175.48,103.20 L175.44,102.95 L175.40,102.70 L175.37,102.45 L175.33,102.20 L175.29,101.95 L175.25,101.70 L175.21,101.45 L175.17,101.20 L175.13,100.95 L175.09,100.70 L175.05,100.45 L175.02,100.20 L174.98,99.95 L174.94,99.70 L174.90,99.45 L174.87,99.20 L174.83,98.95 L174.79,98.70 L174.76,98.45 L174.72,98.20 L174.68,97.95 L174.65,97.70 L174.61,97.45 L174.58,97.20 L174.54,96.95 L174.51,96.70 L174.48,96.45 L174.44,96.20 L174.41,95.95 L174.38,95.70 L174.35,95.45 L174.31,95.20 L174.28,94.95 L174.25,94.70 L174.22,94.45 L174.19,94.20 L174.16,93.95 L174.12,93.70 L174.09,93.45 L174.06,93.20 L174.03,92.95 L173.99,92.70 L173.96,92.45 L173.92,92.20 L173.88,91.95 L173.85,91.70 L173.81,91.45 L173.77,91.20 L173.73,90.95 L173.69,90.70 L173.64,90.45 L173.60,90.20 L173.56,89.95 L173.52,89.70 L173.49,89.45 L173.45,89.20 L173.41,88.95 L173.38,88.70 L173.34,88.45 L173.31,88.20 L173.28,87.95 L173.25,87.70 L173.22,87.45 L173.20,87.20 L173.17,86.95 L173.14,86.70 L173.12,86.45 L173.09,86.20 L173.06,85.95 L173.03,85.70 L173.00,85.45 L172.97,85.20 L172.94,84.95 L172.91,84.70 L172.87,84.45 L172.83,84.20 L172.80,83.95 L172.76,83.70 L172.72,83.45 L172.68,83.20 L172.65,82.95 L172.62,82.70 L172.60,82.45 L172.57,82.20 L172.55,81.95 L172.53,81.70 L172.51,81.45 L172.50,81.20 L172.48,80.95 L172.47,80.70 L172.45,80.45 L172.44,80.20 L172.43,79.95 L172.42,79.70 L172.41,79.45 L172.40,79.20 L172.39,78.95 L172.38,78.70 L172.37,78.45 L172.37,78.20 L172.36,77.95 L172.35,77.70 L172.35,77.45 L172.34,77.20 L172.33,76.95 L172.32,76.70 L172.32,76.45 L172.31,76.20 L172.30,75.95 L172.25,75.70 Z" fill="#e6e0ac" stroke="#3a3a3a" stroke-width="1.0" stroke-linejoin="round"/>
<line x1="172.25" y1="101.70" x2="172.25" y2="195.00" stroke="#333333" stroke-width="0.7"/>
<line x1="172.25" y1="136.1" x2="172.25" y2="161.2" stroke="#383838" stroke-width="2.5"/>
<circle cx="172.25" cy="151.0" r="1.0" fill="#f4f4f4"/>
<line x1="265.75" y1="52.1" x2="265.75" y2="71.40" stroke="#606060" stroke-width="1.1"/>
<line x1="265.75" y1="234.80" x2="265.75" y2="267.6" stroke="#606060" stroke-width="1.1"/>
<path d="M265.75,71.10 L265.70,71.35 L265.70,71.60 L265.69,71.85 L265.69,72.10 L265.68,72.35 L265.68,72.60 L265.68,72.85 L265.67,73.10 L265.67,73.35 L265.67,73.60 L265.66,73.85 L265.66,74.10 L265.66,74.35 L265.65,74.60 L265.65,74.85 L265.65,75.10 L265.65,75.35 L265.64,75.60 L265.64,75.85 L265.64,76.10 L265.63,76.35 L265.63,76.60 L265.62,76.85 L265.62,77.10 L265.61,77.35 L265.61,77.60 L265.60,77.85 L265.59,78.10 L265.59,78.35 L265.58,78.60 L265.57,78.85 L265.57,79.10 L265.56,79.35 L265.55,79.60 L265.54,79.85 L265.53,80.10 L265.52,80.35 L265.52,80.60 L265.51,80.85 L265.50,81.10 L265.49,81.35 L265.47,81.60 L265.46,81.85 L265.45,82.10 L265.44,82.35 L265.42,82.60 L265.41,82.85 L265.39,83.10 L265.38,83.35 L265.36,83.60 L265.34,83.85 L265.33,84.10 L265.31,84.35 L265.29,84.60 L265.28,84.85 L265.26,85.10 L265.24,85.35 L265.22,85.60 L265.20,85.85 L265.18,86.10 L265.16,86.35 L265.14,86.60 L265.11,86.85 L265.09,87.10 L265.07,87.35 L265.04,87.60 L265.01,87.85 L264.98,88.10 L264.95,88.35 L264.92,88.60 L264.89,88.85 L264.85,89.10 L264.82,89.35 L264.78,89.60 L264.74,89.85 L264.70,90.10 L264.67,90.35 L264.63,90.60 L264.59,90.85 L264.55,91.10 L264.51,91.35 L264.47,91.60 L264.43,91.85 L264.38,92.10 L264.34,92.35 L264.30,92.60 L264.25,92.85 L264.20,93.10 L264.16,93.35 L264.11,93.60 L264.06,93.85 L264.01,94.10 L263.96,94.35 L263.91,94.60 L263.86,94.85 L263.81,95.10 L263.76,95.35 L263.71,95.60 L263.66,95.85 L263.61,96.10 L263.57,96.35 L263.52,96.60 L263.47,96.85 L263.42,97.10 L263.38,97.35 L263.33,97.60 L263.29,97.85 L263.24,98.10 L263.19,98.35 L263.14,98.60 L263.09,98.85 L263.04,99.10 L262.99,99.35 L262.94,99.60 L262.89,99.85 L262.84,100.10 L262.79,100.35 L262.74,100.60 L262.69,100.85 L262.65,101.10 L262.60,101.35 L262.56,101.60 L262.52,101.85 L262.49,102.10 L262.45,102.35 L262.42,102.60 L262.40,102.85 L262.37,103.10 L262.35,103.35 L262.34,103.60 L262.32,103.85 L262.30,104.10 L262.29,104.35 L262.27,104.60 L262.26,104.85 L262.24,105.10 L262.23,105.35 L262.22,105.60 L262.20,105.85 L262.19,106.10 L262.18,106.35 L262.17,106.60 L262.17,106.85 L262.16,107.10 L262.16,107.35 L262.15,107.60 L262.15,107.85 L262.15,108.10 L262.16,108.35 L262.19,108.60 L262.22,108.85 L262.26,109.10 L262.31,109.35 L262.37,109.60 L262.43,109.85 L262.50,110.10 L262.56,110.35 L262.63,110.60 L262.69,110.85 L262.76,111.10 L262.82,111.35 L262.87,111.60 L262.93,111.85 L262.99,112.10 L263.05,112.35 L263.11,112.60 L263.18,112.85 L263.24,113.10 L263.31,113.35 L263.37,113.60 L263.43,113.85 L263.49,114.10 L263.54,114.35 L263.59,114.60 L263.63,114.85 L263.66,115.10 L263.70,115.35 L263.74,115.60 L263.77,115.85 L263.81,116.10 L263.84,116.35 L263.87,116.60 L263.89,116.85 L263.92,117.10 L263.93,117.35 L263.94,117.60 L263.95,117.85 L263.95,118.10 L263.94,118.35 L263.92,118.60 L263.90,118.85 L263.87,119.10 L263.84,119.35 L263.80,119.60 L263.76,119.85 L263.72,120.10 L263.67,120.35 L263.63,120.60 L263.58,120.85 L263.53,121.10 L263.48,121.35 L263.43,121.60 L263.38,121.85 L263.33,122.10 L263.28,122.35 L263.23,122.60 L263.18,122.85 L263.12,123.10 L263.06,123.35 L263.00,123.60 L262.94,123.85 L262.87,124.10 L262.80,124.35 L262.73,124.60 L262.66,124.85 L262.58,125.10 L262.50,125.35 L262.42,125.60 L262.33,125.85 L262.23,126.10 L262.13,126.35 L262.02,126.60 L261.91,126.85 L261.79,127.10 L261.67,127.35 L261.54,127.60 L261.41,127.85 L261.27,128.10 L261.13,128.35 L260.99,128.60 L260.84,128.85 L260.69,129.10 L260.53,129.35 L260.35,129.60 L260.17,129.85 L259.98,130.10 L259.78,130.35 L259.57,130.60 L259.36,130.85 L259.15,131.10 L258.93,131.35 L258.72,131.60 L258.50,131.85 L258.29,132.10 L258.07,132.35 L257.87,132.60 L257.67,132.85 L257.47,133.10 L257.28,133.35 L257.08,133.60 L256.89,133.85 L256.70,134.10 L256.50,134.35 L256.29,134.60 L256.08,134.85 L255.86,135.10 L255.62,135.35 L255.38,135.60 L255.11,135.85 L254.84,136.10 L254.53,136.35 L254.20,136.60 L253.84,136.85 L253.47,137.10 L253.07,137.35 L252.67,137.60 L252.24,137.85 L251.81,138.10 L251.37,138.35 L250.93,138.60 L250.49,138.85 L250.05,139.10 L249.61,139.35 L249.18,139.60 L248.74,139.85 L248.29,140.10 L247.84,140.35 L247.38,140.60 L246.91,140.85 L246.44,141.10 L245.96,141.35 L245.49,141.60 L245.01,141.85 L244.54,142.10 L244.06,142.35 L243.59,142.60 L243.13,142.85 L242.66,143.10 L242.19,143.35 L241.71,143.60 L241.21,143.85 L240.72,144.10 L240.22,144.35 L239.72,144.60 L239.24,144.85 L238.76,145.10 L238.30,145.35 L237.85,145.60 L237.43,145.85 L237.03,146.10 L236.66,146.35 L236.32,146.60 L236.00,146.85 L235.69,147.10 L235.40,147.35 L235.12,147.60 L234.85,147.85 L234.59,148.10 L234.34,148.35 L234.09,148.60 L233.85,148.85 L233.61,149.10 L233.37,149.35 L233.13,149.60 L232.89,149.85 L232.65,150.10 L232.40,150.35 L232.15,150.60 L231.89,150.85 L231.63,151.10 L231.38,151.35 L231.13,151.60 L230.89,151.85 L230.67,152.10 L230.47,152.35 L230.29,152.60 L230.13,152.85 L230.00,153.10 L229.87,153.35 L229.74,153.60 L229.62,153.85 L229.51,154.10 L229.40,154.35 L229.31,154.60 L229.24,154.85 L229.18,155.10 L229.16,155.35 L229.15,155.60 L229.17,155.85 L229.22,156.10 L229.28,156.35 L229.35,156.60 L229.44,156.85 L229.54,157.10 L229.64,157.35 L229.75,157.60 L229.87,157.85 L230.02,158.10 L230.20,158.35 L230.40,158.60 L230.63,158.85 L230.87,159.10 L231.13,159.35 L231.40,159.60 L231.69,159.85 L232.00,160.10 L232.37,160.35 L232.79,160.60 L233.24,160.85 L233.72,161.10 L234.22,161.35 L234.73,161.60 L235.24,161.85 L235.75,162.10 L236.25,162.35 L236.77,162.60 L237.31,162.85 L237.86,163.10 L238.41,163.35 L238.98,163.60 L239.53,163.85 L240.09,164.10 L240.63,164.35 L241.16,164.60 L241.69,164.85 L242.22,165.10 L242.75,165.35 L243.28,165.60 L243.80,165.85 L244.31,166.10 L244.80,166.35 L245.28,166.60 L245.74,166.85 L246.19,167.10 L246.63,167.35 L247.07,167.60 L247.49,167.85 L247.90,168.10 L248.30,168.35 L248.68,168.60 L249.04,168.85 L249.39,169.10 L249.71,169.35 L250.02,169.60 L250.31,169.85 L250.59,170.10 L250.87,170.35 L251.15,170.60 L251.43,170.85 L251.71,171.10 L252.01,171.35 L252.31,171.60 L252.61,171.85 L252.90,172.10 L253.20,172.35 L253.50,172.60 L253.81,172.85 L254.12,173.10 L254.43,173.35 L254.75,173.60 L255.09,173.85 L255.45,174.10 L255.82,174.35 L256.20,174.60 L256.57,174.85 L256.94,175.10 L257.29,175.35 L257.61,175.60 L257.90,175.85 L258.14,176.10 L258.37,176.35 L258.57,176.60 L258.76,176.85 L258.94,177.10 L259.12,177.35 L259.28,177.60 L259.45,177.85 L259.62,178.10 L259.78,178.35 L259.95,178.60 L260.11,178.85 L260.26,179.10 L260.42,179.35 L260.57,179.60 L260.72,179.85 L260.87,180.10 L261.01,180.35 L261.15,180.60 L261.29,180.85 L261.43,181.10 L261.57,181.35 L261.70,181.60 L261.84,181.85 L261.97,182.10 L262.11,182.35 L262.24,182.60 L262.37,182.85 L262.50,183.10 L262.63,183.35 L262.75,183.60 L262.87,183.85 L262.98,184.10 L263.09,184.35 L263.20,184.60 L263.29,184.85 L263.39,185.10 L263.48,185.35 L263.57,185.60 L263.65,185.85 L263.74,186.10 L263.82,186.35 L263.90,186.60 L263.98,186.85 L264.05,187.10 L264.12,187.35 L264.18,187.60 L264.24,187.85 L264.29,188.10 L264.33,188.35 L264.36,188.60 L264.40,188.85 L264.43,189.10 L264.46,189.35 L264.49,189.60 L264.52,189.85 L264.54,190.10 L264.57,190.35 L264.59,190.60 L264.61,190.85 L264.62,191.10 L264.64,191.35 L264.64,191.60 L264.65,191.85 L264.65,192.10 L264.65,192.35 L264.65,192.60 L264.65,192.85 L264.65,193.10 L264.65,193.35 L264.65,193.60 L264.65,193.85 L264.65,194.10 L264.65,194.35 L264.65,194.60 L264.65,194.85 L264.64,195.10 L264.62,195.35 L264.60,195.60 L264.58,195.85 L264.54,196.10 L264.51,196.35 L264.47,196.60 L264.43,196.85 L264.38,197.10 L264.34,197.35 L264.30,197.60 L264.25,197.85 L264.21,198.10 L264.17,198.35 L264.13,198.60 L264.10,198.85 L264.07,199.10 L264.05,199.35 L264.02,199.60 L264.00,199.85 L263.98,200.10 L263.95,200.35 L263.93,200.60 L263.91,200.85 L263.88,201.10 L263.86,201.35 L263.84,201.60 L263.82,201.85 L263.80,202.10 L263.78,202.35 L263.76,202.60 L263.74,202.85 L263.72,203.10 L263.71,203.35 L263.69,203.60 L263.68,203.85 L263.67,204.10 L263.66,204.35 L263.66,204.60 L263.65,204.85 L263.65,205.10 L263.65,205.35 L263.65,205.60 L263.65,205.85 L263.66,206.10 L263.66,206.35 L263.67,206.60 L263.68,206.85 L263.68,207.10 L263.69,207.35 L263.70,207.60 L263.71,207.85 L263.72,208.10 L263.73,208.35 L263.75,208.60 L263.76,208.85 L263.78,209.10 L263.80,209.35 L263.83,209.60 L263.87,209.85 L263.91,210.10 L263.95,210.35 L263.99,210.60 L264.04,210.85 L264.09,211.10 L264.14,211.35 L264.19,211.60 L264.24,211.85 L264.29,212.10 L264.34,212.35 L264.38,212.60 L264.42,212.85 L264.46,213.10 L264.49,213.35 L264.52,213.60 L264.55,213.85 L264.58,214.10 L264.61,214.35 L264.64,214.60 L264.66,214.85 L264.69,215.10 L264.71,215.35 L264.74,215.60 L264.76,215.85 L264.78,216.10 L264.81,216.35 L264.83,216.60 L264.85,216.85 L264.87,217.10 L264.90,217.35 L264.92,217.60 L264.94,217.85 L264.96,218.10 L264.98,218.35 L265.00,218.60 L265.02,218.85 L265.04,219.10 L265.06,219.35 L265.08,219.60 L265.10,219.85 L265.12,220.10 L265.14,220.35 L265.16,220.60 L265.18,220.85 L265.20,221.10 L265.22,221.35 L265.24,221.60 L265.25,221.85 L265.27,222.10 L265.29,222.35 L265.31,222.60 L265.32,222.85 L265.34,223.10 L265.36,223.35 L265.37,223.60 L265.39,223.85 L265.40,224.10 L265.42,224.35 L265.43,224.60 L265.44,224.85 L265.46,225.10 L265.47,225.35 L265.48,225.60 L265.49,225.85 L265.51,226.10 L265.52,226.35 L265.53,226.60 L265.54,226.85 L265.55,227.10 L265.56,227.35 L265.57,227.60 L265.58,227.85 L265.59,228.10 L265.60,228.35 L265.61,228.60 L265.62,228.85 L265.63,229.10 L265.64,229.35 L265.64,229.60 L265.65,229.85 L265.65,230.10 L265.66,230.35 L265.66,230.60 L265.66,230.85 L265.67,231.10 L265.67,231.35 L265.67,231.60 L265.67,231.85 L265.68,232.10 L265.68,232.35 L265.68,232.60 L265.68,232.85 L265.69,233.10 L265.69,233.35 L265.69,233.60 L265.69,233.85 L265.70,234.10 L265.70,234.35 L265.70,234.60 L265.71,234.85 L265.75,235.10 L265.75,235.10 L265.79,234.85 L265.80,234.60 L265.80,234.35 L265.80,234.10 L265.81,233.85 L265.81,233.60 L265.81,233.35 L265.81,233.10 L265.82,232.85 L265.82,232.60 L265.82,232.35 L265.82,232.10 L265.83,231.85 L265.83,231.60 L265.83,231.35 L265.83,231.10 L265.84,230.85 L265.84,230.60 L265.84,230.35 L265.85,230.10 L265.85,229.85 L265.86,229.60 L265.86,229.35 L265.87,229.10 L265.88,228.85 L265.89,228.60 L265.90,228.35 L265.91,228.10 L265.92,227.85 L265.93,227.60 L265.94,227.35 L265.95,227.10 L265.96,226.85 L265.97,226.60 L265.98,226.35 L265.99,226.10 L266.01,225.85 L266.02,225.60 L266.03,225.35 L266.04,225.10 L266.06,224.85 L266.07,224.60 L266.08,224.35 L266.10,224.10 L266.11,223.85 L266.13,223.60 L266.14,223.35 L266.16,223.10 L266.18,222.85 L266.19,222.60 L266.21,222.35 L266.23,222.10 L266.25,221.85 L266.26,221.60 L266.28,221.35 L266.30,221.10 L266.32,220.85 L266.34,220.60 L266.36,220.35 L266.38,220.10 L266.40,219.85 L266.42,219.60 L266.44,219.35 L266.46,219.10 L266.48,218.85 L266.50,218.60 L266.52,218.35 L266.54,218.10 L266.56,217.85 L266.58,217.60 L266.60,217.35 L266.63,217.10 L266.65,216.85 L266.67,216.60 L266.69,216.35 L266.72,216.10 L266.74,215.85 L266.76,215.60 L266.79,215.35 L266.81,215.10 L266.84,214.85 L266.86,214.60 L266.89,214.35 L266.92,214.10 L266.95,213.85 L266.98,213.60 L267.01,213.35 L267.04,213.10 L267.08,212.85 L267.12,212.60 L267.16,212.35 L267.21,212.10 L267.26,211.85 L267.31,211.60 L267.36,211.35 L267.41,211.10 L267.46,210.85 L267.51,210.60 L267.55,210.35 L267.59,210.10 L267.63,209.85 L267.67,209.60 L267.70,209.35 L267.72,209.10 L267.74,208.85 L267.75,208.60 L267.77,208.35 L267.78,208.10 L267.79,207.85 L267.80,207.60 L267.81,207.35 L267.82,207.10 L267.82,206.85 L267.83,206.60 L267.84,206.35 L267.84,206.10 L267.85,205.85 L267.85,205.60 L267.85,205.35 L267.85,205.10 L267.85,204.85 L267.84,204.60 L267.84,204.35 L267.83,204.10 L267.82,203.85 L267.81,203.60 L267.79,203.35 L267.78,203.10 L267.76,202.85 L267.74,202.60 L267.72,202.35 L267.70,202.10 L267.68,201.85 L267.66,201.60 L267.64,201.35 L267.62,201.10 L267.59,200.85 L267.57,200.60 L267.55,200.35 L267.52,200.10 L267.50,199.85 L267.48,199.60 L267.45,199.35 L267.43,199.10 L267.40,198.85 L267.37,198.60 L267.33,198.35 L267.29,198.10 L267.25,197.85 L267.20,197.60 L267.16,197.35 L267.12,197.10 L267.07,196.85 L267.03,196.60 L266.99,196.35 L266.96,196.10 L266.92,195.85 L266.90,195.60 L266.88,195.35 L266.86,195.10 L266.85,194.85 L266.85,194.60 L266.85,194.35 L266.85,194.10 L266.85,193.85 L266.85,193.60 L266.85,193.35 L266.85,193.10 L266.85,192.85 L266.85,192.60 L266.85,192.35 L266.85,192.10 L266.85,191.85 L266.86,191.60 L266.86,191.35 L266.88,191.10 L266.89,190.85 L266.91,190.60 L266.93,190.35 L266.96,190.10 L266.98,189.85 L267.01,189.60 L267.04,189.35 L267.07,189.10 L267.10,188.85 L267.14,188.60 L267.17,188.35 L267.21,188.10 L267.26,187.85 L267.32,187.60 L267.38,187.35 L267.45,187.10 L267.52,186.85 L267.60,186.60 L267.68,186.35 L267.76,186.10 L267.85,185.85 L267.93,185.60 L268.02,185.35 L268.11,185.10 L268.21,184.85 L268.30,184.60 L268.41,184.35 L268.52,184.10 L268.63,183.85 L268.75,183.60 L268.87,183.35 L269.00,183.10 L269.13,182.85 L269.26,182.60 L269.39,182.35 L269.53,182.10 L269.66,181.85 L269.80,181.60 L269.93,181.35 L270.07,181.10 L270.21,180.85 L270.35,180.60 L270.49,180.35 L270.63,180.10 L270.78,179.85 L270.93,179.60 L271.08,179.35 L271.24,179.10 L271.39,178.85 L271.55,178.60 L271.72,178.35 L271.88,178.10 L272.05,177.85 L272.22,177.60 L272.38,177.35 L272.56,177.10 L272.74,176.85 L272.93,176.60 L273.13,176.35 L273.36,176.10 L273.60,175.85 L273.89,175.60 L274.21,175.35 L274.56,175.10 L274.93,174.85 L275.30,174.60 L275.68,174.35 L276.05,174.10 L276.41,173.85 L276.75,173.60 L277.07,173.35 L277.38,173.10 L277.69,172.85 L278.00,172.60 L278.30,172.35 L278.60,172.10 L278.89,171.85 L279.19,171.60 L279.49,171.35 L279.79,171.10 L280.07,170.85 L280.35,170.60 L280.63,170.35 L280.91,170.10 L281.19,169.85 L281.48,169.60 L281.79,169.35 L282.11,169.10 L282.46,168.85 L282.82,168.60 L283.20,168.35 L283.60,168.10 L284.01,167.85 L284.43,167.60 L284.87,167.35 L285.31,167.10 L285.76,166.85 L286.22,166.60 L286.70,166.35 L287.19,166.10 L287.70,165.85 L288.22,165.60 L288.75,165.35 L289.28,165.10 L289.81,164.85 L290.34,164.60 L290.87,164.35 L291.41,164.10 L291.97,163.85 L292.52,163.60 L293.09,163.35 L293.64,163.10 L294.19,162.85 L294.73,162.60 L295.25,162.35 L295.75,162.10 L296.26,161.85 L296.77,161.60 L297.28,161.35 L297.78,161.10 L298.26,160.85 L298.71,160.60 L299.13,160.35 L299.50,160.10 L299.81,159.85 L300.10,159.60 L300.37,159.35 L300.63,159.10 L300.87,158.85 L301.10,158.60 L301.30,158.35 L301.48,158.10 L301.63,157.85 L301.75,157.60 L301.86,157.35 L301.96,157.10 L302.06,156.85 L302.15,156.60 L302.22,156.35 L302.28,156.10 L302.33,155.85 L302.35,155.60 L302.34,155.35 L302.32,155.10 L302.26,154.85 L302.19,154.60 L302.10,154.35 L301.99,154.10 L301.88,153.85 L301.76,153.60 L301.63,153.35 L301.50,153.10 L301.37,152.85 L301.21,152.60 L301.03,152.35 L300.83,152.10 L300.61,151.85 L300.37,151.60 L300.12,151.35 L299.87,151.10 L299.61,150.85 L299.35,150.60 L299.10,150.35 L298.85,150.10 L298.61,149.85 L298.37,149.60 L298.13,149.35 L297.89,149.10 L297.65,148.85 L297.41,148.60 L297.16,148.35 L296.91,148.10 L296.65,147.85 L296.38,147.60 L296.10,147.35 L295.81,147.10 L295.50,146.85 L295.18,146.60 L294.84,146.35 L294.47,146.10 L294.07,145.85 L293.65,145.60 L293.20,145.35 L292.74,145.10 L292.26,144.85 L291.78,144.60 L291.28,144.35 L290.78,144.10 L290.29,143.85 L289.79,143.60 L289.31,143.35 L288.84,143.10 L288.37,142.85 L287.91,142.60 L287.44,142.35 L286.96,142.10 L286.49,141.85 L286.01,141.60 L285.54,141.35 L285.06,141.10 L284.59,140.85 L284.12,140.60 L283.66,140.35 L283.21,140.10 L282.76,139.85 L282.32,139.60 L281.89,139.35 L281.45,139.10 L281.01,138.85 L280.57,138.60 L280.13,138.35 L279.69,138.10 L279.26,137.85 L278.83,137.60 L278.43,137.35 L278.03,137.10 L277.66,136.85 L277.30,136.60 L276.97,136.35 L276.66,136.10 L276.39,135.85 L276.12,135.60 L275.88,135.35 L275.64,135.10 L275.42,134.85 L275.21,134.60 L275.00,134.35 L274.80,134.10 L274.61,133.85 L274.42,133.60 L274.22,133.35 L274.03,133.10 L273.83,132.85 L273.63,132.60 L273.43,132.35 L273.21,132.10 L273.00,131.85 L272.78,131.60 L272.57,131.35 L272.35,131.10 L272.14,130.85 L271.93,130.60 L271.72,130.35 L271.52,130.10 L271.33,129.85 L271.15,129.60 L270.97,129.35 L270.81,129.10 L270.66,128.85 L270.51,128.60 L270.37,128.35 L270.23,128.10 L270.09,127.85 L269.96,127.60 L269.83,127.35 L269.71,127.10 L269.59,126.85 L269.48,126.60 L269.37,126.35 L269.27,126.10 L269.17,125.85 L269.08,125.60 L269.00,125.35 L268.92,125.10 L268.84,124.85 L268.77,124.60 L268.70,124.35 L268.63,124.10 L268.56,123.85 L268.50,123.60 L268.44,123.35 L268.38,123.10 L268.32,122.85 L268.27,122.60 L268.22,122.35 L268.17,122.10 L268.12,121.85 L268.07,121.60 L268.02,121.35 L267.97,121.10 L267.92,120.85 L267.87,120.60 L267.83,120.35 L267.78,120.10 L267.74,119.85 L267.70,119.60 L267.66,119.35 L267.63,119.10 L267.60,118.85 L267.58,118.60 L267.56,118.35 L267.55,118.10 L267.55,117.85 L267.56,117.60 L267.57,117.35 L267.58,117.10 L267.61,116.85 L267.63,116.60 L267.66,116.35 L267.69,116.10 L267.73,115.85 L267.76,115.60 L267.80,115.35 L267.84,115.10 L267.87,114.85 L267.91,114.60 L267.96,114.35 L268.01,114.10 L268.07,113.85 L268.13,113.60 L268.19,113.35 L268.26,113.10 L268.32,112.85 L268.39,112.60 L268.45,112.35 L268.51,112.10 L268.57,111.85 L268.63,111.60 L268.68,111.35 L268.74,111.10 L268.81,110.85 L268.87,110.60 L268.94,110.35 L269.00,110.10 L269.07,109.85 L269.13,109.60 L269.19,109.35 L269.24,109.10 L269.28,108.85 L269.31,108.60 L269.34,108.35 L269.35,108.10 L269.35,107.85 L269.35,107.60 L269.34,107.35 L269.34,107.10 L269.33,106.85 L269.33,106.60 L269.32,106.35 L269.31,106.10 L269.30,105.85 L269.28,105.60 L269.27,105.35 L269.26,105.10 L269.24,104.85 L269.23,104.60 L269.21,104.35 L269.20,104.10 L269.18,103.85 L269.16,103.60 L269.15,103.35 L269.13,103.10 L269.10,102.85 L269.08,102.60 L269.05,102.35 L269.01,102.10 L268.98,101.85 L268.94,101.60 L268.90,101.35 L268.85,101.10 L268.81,100.85 L268.76,100.60 L268.71,100.35 L268.66,100.10 L268.61,99.85 L268.56,99.60 L268.51,99.35 L268.46,99.10 L268.41,98.85 L268.36,98.60 L268.31,98.35 L268.26,98.10 L268.21,97.85 L268.17,97.60 L268.12,97.35 L268.08,97.10 L268.03,96.85 L267.98,96.60 L267.93,96.35 L267.89,96.10 L267.84,95.85 L267.79,95.60 L267.74,95.35 L267.69,95.10 L267.64,94.85 L267.59,94.60 L267.54,94.35 L267.49,94.10 L267.44,93.85 L267.39,93.60 L267.34,93.35 L267.30,93.10 L267.25,92.85 L267.20,92.60 L267.16,92.35 L267.12,92.10 L267.07,91.85 L267.03,91.60 L266.99,91.35 L266.95,91.10 L266.91,90.85 L266.87,90.60 L266.83,90.35 L266.80,90.10 L266.76,89.85 L266.72,89.60 L266.68,89.35 L266.65,89.10 L266.61,88.85 L266.58,88.60 L266.55,88.35 L266.52,88.10 L266.49,87.85 L266.46,87.60 L266.43,87.35 L266.41,87.10 L266.39,86.85 L266.36,86.60 L266.34,86.35 L266.32,86.10 L266.30,85.85 L266.28,85.60 L266.26,85.35 L266.24,85.10 L266.22,84.85 L266.21,84.60 L266.19,84.35 L266.17,84.10 L266.16,83.85 L266.14,83.60 L266.12,83.35 L266.11,83.10 L266.09,82.85 L266.08,82.60 L266.06,82.35 L266.05,82.10 L266.04,81.85 L266.03,81.60 L266.01,81.35 L266.00,81.10 L265.99,80.85 L265.98,80.60 L265.98,80.35 L265.97,80.10 L265.96,79.85 L265.95,79.60 L265.94,79.35 L265.93,79.10 L265.93,78.85 L265.92,78.60 L265.91,78.35 L265.91,78.10 L265.90,77.85 L265.89,77.60 L265.89,77.35 L265.88,77.10 L265.88,76.85 L265.87,76.60 L265.87,76.35 L265.86,76.10 L265.86,75.85 L265.86,75.60 L265.85,75.35 L265.85,75.10 L265.85,74.85 L265.85,74.60 L265.84,74.35 L265.84,74.10 L265.84,73.85 L265.83,73.60 L265.83,73.35 L265.83,73.10 L265.82,72.85 L265.82,72.60 L265.82,72.35 L265.81,72.10 L265.81,71.85 L265.80,71.60 L265.80,71.35 L265.75,71.10 Z" fill="#d6c3d6" stroke="#3a3a3a" stroke-width="1.0" stroke-linejoin="round"/>
<line x1="265.75" y1="117.90" x2="265.75" y2="194.50" stroke="#333333" stroke-width="0.7"/>
<line x1="265.75" y1="144.8" x2="265.75" y2="164.5" stroke="#383838" stroke-width="2.5"/>
<circle cx="265.75" cy="155.3" r="1.0" fill="#f4f4f4"/>
<line x1="32.0" y1="157.5" x2="312.5" y2="157.5" stroke="#0a7d0a" stroke-width="1.5" stroke-opacity="0.85" stroke-dasharray="3.648 1.578"/>
<line x1="32.0" y1="148.2" x2="312.5" y2="148.2" stroke="#ffa500" stroke-width="1.5" stroke-opacity="0.7" stroke-dasharray="3.648 1.578"/>
<line x1="32.0" y1="153.05" x2="312.5" y2="153.05" stroke="#1010d0" stroke-width="1.55" stroke-linecap="square" />
<line x1="32.0" y1="155.25" x2="312.5" y2="155.25" stroke="#d81e1e" stroke-width="1.55" stroke-linecap="square" />
<path d="M312.5,17.5 H32.0 V290.2 H312.5" fill="none" stroke="#999999" stroke-width="1.5" stroke-linecap="square"/><line x1="312.5" y1="17.5" x2="312.5" y2="290.2" stroke="#999999" stroke-width="1.5" stroke-linecap="square"/>
<rect x="37.3" y="211.0" width="94.2" height="74.0" rx="2" ry="2" fill="#ffffff" fill-opacity="0.8" stroke="#d6d6d6" stroke-width="0.8"/>
<line x1="40.8" y1="218.6" x2="61.1" y2="218.6" stroke="#0a7d0a" stroke-width="1.6" stroke-opacity="0.85" stroke-dasharray="3.648 1.578"/>
<text x="69.6" y="221.9" class="t">TEM Mean</text>
<line x1="40.8" y1="232.8" x2="61.1" y2="232.8" stroke="#ffa500" stroke-width="1.6" stroke-opacity="0.7" stroke-dasharray="3.648 1.578"/>
<text x="69.6" y="236.1" class="t">VES Mean</text>
<line x1="40.8" y1="247.0" x2="61.1" y2="247.0" stroke="#800080" stroke-width="1.6" stroke-opacity="0.72" stroke-dasharray="3.648 1.578"/>
<text x="69.6" y="250.3" class="t">NBR Mean</text>
<line x1="40.8" y1="261.2" x2="61.1" y2="261.2" stroke="#1010d0" stroke-width="1.6" stroke-linecap="square" />
<text x="69.6" y="264.5" class="t">Grand Mean</text>
<line x1="40.8" y1="275.5" x2="61.1" y2="275.5" stroke="#d81e1e" stroke-width="1.6" stroke-linecap="square" />
<text x="69.6" y="278.8" class="t">Grand Median</text>
<line x1="30.0" y1="271.25" x2="32.0" y2="271.25" stroke="#505050" stroke-width="0.9"/>
<text x="28.4" y="274.75" class="t" text-anchor="end">0.0</text>
<line x1="30.0" y1="236.46" x2="32.0" y2="236.46" stroke="#505050" stroke-width="0.9"/>
<text x="28.4" y="239.96" class="t" text-anchor="end">0.5</text>
<line x1="30.0" y1="201.67" x2="32.0" y2="201.67" stroke="#505050" stroke-width="0.9"/>
<text x="28.4" y="205.17" class="t" text-anchor="end">1.0</text>
<line x1="30.0" y1="166.88" x2="32.0" y2="166.88" stroke="#505050" stroke-width="0.9"/>
<text x="28.4" y="170.38" class="t" text-anchor="end">1.5</text>
<line x1="30.0" y1="132.09" x2="32.0" y2="132.09" stroke="#505050" stroke-width="0.9"/>
<text x="28.4" y="135.59" class="t" text-anchor="end">2.0</text>
<line x1="30.0" y1="97.30" x2="32.0" y2="97.30" stroke="#505050" stroke-width="0.9"/>
<text x="28.4" y="100.80" class="t" text-anchor="end">2.5</text>
<line x1="30.0" y1="62.51" x2="32.0" y2="62.51" stroke="#505050" stroke-width="0.9"/>
<text x="28.4" y="66.01" class="t" text-anchor="end">3.0</text>
<line x1="30.0" y1="27.72" x2="32.0" y2="27.72" stroke="#505050" stroke-width="0.9"/>
<text x="28.4" y="31.22" class="t" text-anchor="end">3.5</text>
<line x1="78.75" y1="290.2" x2="78.75" y2="292.2" stroke="#505050" stroke-width="0.9"/>
<text x="78.75" y="300.6" class="t" text-anchor="middle">TEM</text>
<line x1="172.25" y1="290.2" x2="172.25" y2="292.2" stroke="#505050" stroke-width="0.9"/>
<text x="172.25" y="300.6" class="t" text-anchor="middle">VES</text>
<line x1="265.75" y1="290.2" x2="265.75" y2="292.2" stroke="#505050" stroke-width="0.9"/>
<text x="265.75" y="300.6" class="t" text-anchor="middle">NBR</text>
<text x="172.3" y="312.2" class="t" text-anchor="middle">Geoelectrical Method</text>
<text x="95" y="11.7" class="tt">a</text><text x="108.4" y="11.7" class="tt">Before Data Harmonization</text>
<text transform="translate(10.6,155.5) rotate(-90)" class="t" text-anchor="middle">Log<tspan font-size="7" dy="2">10</tspan><tspan dy="-2"> [Resistivity (Ωm)]</tspan></text>
<line x1="416.40" y1="38.6" x2="416.40" y2="85.90" stroke="#606060" stroke-width="1.1"/>
<line x1="416.40" y1="244.80" x2="416.40" y2="270.4" stroke="#606060" stroke-width="1.1"/>
<path d="M416.40,85.60 L416.36,85.85 L416.35,86.10 L416.34,86.35 L416.33,86.60 L416.32,86.85 L416.31,87.10 L416.30,87.35 L416.29,87.60 L416.28,87.85 L416.28,88.10 L416.27,88.35 L416.26,88.60 L416.25,88.85 L416.24,89.10 L416.23,89.35 L416.22,89.60 L416.20,89.85 L416.19,90.10 L416.18,90.35 L416.16,90.60 L416.15,90.85 L416.13,91.10 L416.11,91.35 L416.09,91.60 L416.07,91.85 L416.04,92.10 L416.01,92.35 L415.97,92.60 L415.93,92.85 L415.89,93.10 L415.85,93.35 L415.81,93.60 L415.76,93.85 L415.72,94.10 L415.67,94.35 L415.62,94.60 L415.57,94.85 L415.52,95.10 L415.47,95.35 L415.41,95.60 L415.34,95.85 L415.27,96.10 L415.20,96.35 L415.12,96.60 L415.02,96.85 L414.92,97.10 L414.80,97.35 L414.68,97.60 L414.55,97.85 L414.41,98.10 L414.27,98.35 L414.12,98.60 L413.97,98.85 L413.81,99.10 L413.64,99.35 L413.45,99.60 L413.26,99.85 L413.06,100.10 L412.86,100.35 L412.67,100.60 L412.47,100.85 L412.28,101.10 L412.09,101.35 L411.90,101.60 L411.72,101.85 L411.53,102.10 L411.35,102.35 L411.17,102.60 L410.98,102.85 L410.80,103.10 L410.61,103.35 L410.42,103.60 L410.23,103.85 L410.03,104.10 L409.83,104.35 L409.63,104.60 L409.43,104.85 L409.24,105.10 L409.06,105.35 L408.89,105.60 L408.73,105.85 L408.59,106.10 L408.45,106.35 L408.32,106.60 L408.20,106.85 L408.08,107.10 L407.97,107.35 L407.86,107.60 L407.75,107.85 L407.64,108.10 L407.53,108.35 L407.42,108.60 L407.30,108.85 L407.19,109.10 L407.07,109.35 L406.97,109.60 L406.87,109.85 L406.79,110.10 L406.73,110.35 L406.68,110.60 L406.64,110.85 L406.60,111.10 L406.57,111.35 L406.53,111.60 L406.50,111.85 L406.47,112.10 L406.45,112.35 L406.43,112.60 L406.41,112.85 L406.40,113.10 L406.40,113.35 L406.41,113.60 L406.47,113.85 L406.55,114.10 L406.67,114.35 L406.80,114.60 L406.95,114.85 L407.12,115.10 L407.29,115.35 L407.45,115.60 L407.61,115.85 L407.76,116.10 L407.94,116.35 L408.14,116.60 L408.34,116.85 L408.51,117.10 L408.65,117.35 L408.73,117.60 L408.79,117.85 L408.85,118.10 L408.90,118.35 L408.95,118.60 L409.00,118.85 L409.04,119.10 L409.08,119.35 L409.11,119.60 L409.14,119.85 L409.16,120.10 L409.18,120.35 L409.19,120.60 L409.20,120.85 L409.20,121.10 L409.18,121.35 L409.15,121.60 L409.10,121.85 L409.03,122.10 L408.96,122.35 L408.87,122.60 L408.77,122.85 L408.66,123.10 L408.55,123.35 L408.44,123.60 L408.32,123.85 L408.19,124.10 L408.07,124.35 L407.95,124.60 L407.82,124.85 L407.67,125.10 L407.51,125.35 L407.34,125.60 L407.16,125.85 L406.97,126.10 L406.76,126.35 L406.55,126.60 L406.33,126.85 L406.09,127.10 L405.85,127.35 L405.61,127.60 L405.35,127.85 L405.09,128.10 L404.81,128.35 L404.50,128.60 L404.17,128.85 L403.82,129.10 L403.45,129.35 L403.07,129.60 L402.68,129.85 L402.28,130.10 L401.87,130.35 L401.46,130.60 L401.05,130.85 L400.64,131.10 L400.24,131.35 L399.84,131.60 L399.44,131.85 L399.02,132.10 L398.60,132.35 L398.18,132.60 L397.74,132.85 L397.31,133.10 L396.88,133.35 L396.44,133.60 L396.01,133.85 L395.58,134.10 L395.16,134.35 L394.75,134.60 L394.34,134.85 L393.94,135.10 L393.55,135.35 L393.16,135.60 L392.78,135.85 L392.40,136.10 L392.02,136.35 L391.65,136.60 L391.28,136.85 L390.91,137.10 L390.55,137.35 L390.18,137.60 L389.82,137.85 L389.47,138.10 L389.11,138.35 L388.76,138.60 L388.41,138.85 L388.05,139.10 L387.70,139.35 L387.35,139.60 L387.00,139.85 L386.66,140.10 L386.32,140.35 L385.98,140.60 L385.65,140.85 L385.32,141.10 L385.00,141.35 L384.69,141.60 L384.38,141.85 L384.08,142.10 L383.77,142.35 L383.46,142.60 L383.14,142.85 L382.84,143.10 L382.55,143.35 L382.28,143.60 L382.04,143.85 L381.84,144.10 L381.67,144.35 L381.53,144.60 L381.40,144.85 L381.28,145.10 L381.18,145.35 L381.08,145.60 L380.98,145.85 L380.90,146.10 L380.81,146.35 L380.73,146.60 L380.65,146.85 L380.58,147.10 L380.50,147.35 L380.43,147.60 L380.37,147.85 L380.31,148.10 L380.24,148.35 L380.19,148.60 L380.13,148.85 L380.08,149.10 L380.02,149.35 L379.97,149.60 L379.91,149.85 L379.85,150.10 L379.79,150.35 L379.74,150.60 L379.69,150.85 L379.64,151.10 L379.60,151.35 L379.56,151.60 L379.53,151.85 L379.51,152.10 L379.50,152.35 L379.51,152.60 L379.56,152.85 L379.68,153.10 L379.83,153.35 L380.02,153.60 L380.22,153.85 L380.42,154.10 L380.62,154.35 L380.80,154.60 L380.95,154.85 L381.05,155.10 L381.10,155.35 L381.08,155.60 L381.00,155.85 L380.88,156.10 L380.72,156.35 L380.54,156.60 L380.34,156.85 L380.14,157.10 L379.95,157.35 L379.78,157.60 L379.64,157.85 L379.54,158.10 L379.50,158.35 L379.50,158.60 L379.51,158.85 L379.53,159.10 L379.55,159.35 L379.58,159.60 L379.61,159.85 L379.65,160.10 L379.69,160.35 L379.75,160.60 L379.80,160.85 L379.87,161.10 L379.93,161.35 L380.01,161.60 L380.08,161.85 L380.20,162.10 L380.42,162.35 L380.72,162.60 L381.09,162.85 L381.52,163.10 L381.98,163.35 L382.46,163.60 L382.95,163.85 L383.42,164.10 L383.88,164.35 L384.36,164.60 L384.89,164.85 L385.44,165.10 L386.01,165.35 L386.59,165.60 L387.19,165.85 L387.80,166.10 L388.40,166.35 L388.99,166.60 L389.58,166.85 L390.15,167.10 L390.69,167.35 L391.20,167.60 L391.69,167.85 L392.16,168.10 L392.63,168.35 L393.08,168.60 L393.53,168.85 L393.96,169.10 L394.38,169.35 L394.78,169.60 L395.17,169.85 L395.55,170.10 L395.91,170.35 L396.26,170.60 L396.60,170.85 L396.93,171.10 L397.25,171.35 L397.56,171.60 L397.87,171.85 L398.18,172.10 L398.48,172.35 L398.79,172.60 L399.09,172.85 L399.40,173.10 L399.71,173.35 L400.03,173.60 L400.35,173.85 L400.68,174.10 L401.02,174.35 L401.36,174.60 L401.69,174.85 L402.03,175.10 L402.36,175.35 L402.69,175.60 L403.00,175.85 L403.31,176.10 L403.60,176.35 L403.89,176.60 L404.15,176.85 L404.40,177.10 L404.64,177.35 L404.89,177.60 L405.13,177.85 L405.36,178.10 L405.59,178.35 L405.81,178.60 L406.03,178.85 L406.23,179.10 L406.42,179.35 L406.60,179.60 L406.76,179.85 L406.91,180.10 L407.03,180.35 L407.14,180.60 L407.24,180.85 L407.33,181.10 L407.41,181.35 L407.48,181.60 L407.55,181.85 L407.62,182.10 L407.68,182.35 L407.74,182.60 L407.80,182.85 L407.86,183.10 L407.92,183.35 L407.99,183.60 L408.06,183.85 L408.13,184.10 L408.20,184.35 L408.28,184.60 L408.35,184.85 L408.43,185.10 L408.50,185.35 L408.58,185.60 L408.65,185.85 L408.73,186.10 L408.81,186.35 L408.89,186.60 L408.97,186.85 L409.06,187.10 L409.15,187.35 L409.24,187.60 L409.33,187.85 L409.43,188.10 L409.53,188.35 L409.64,188.60 L409.74,188.85 L409.85,189.10 L409.97,189.35 L410.08,189.60 L410.19,189.85 L410.30,190.10 L410.41,190.35 L410.53,190.60 L410.64,190.85 L410.74,191.10 L410.85,191.35 L410.96,191.60 L411.07,191.85 L411.18,192.10 L411.29,192.35 L411.40,192.60 L411.51,192.85 L411.62,193.10 L411.72,193.35 L411.83,193.60 L411.93,193.85 L412.04,194.10 L412.14,194.35 L412.24,194.60 L412.35,194.85 L412.46,195.10 L412.57,195.35 L412.68,195.60 L412.80,195.85 L412.91,196.10 L413.01,196.35 L413.12,196.60 L413.21,196.85 L413.30,197.10 L413.37,197.35 L413.43,197.60 L413.48,197.85 L413.51,198.10 L413.54,198.35 L413.56,198.60 L413.58,198.85 L413.59,199.10 L413.61,199.35 L413.62,199.60 L413.64,199.85 L413.65,200.10 L413.67,200.35 L413.69,200.60 L413.72,200.85 L413.74,201.10 L413.77,201.35 L413.81,201.60 L413.84,201.85 L413.88,202.10 L413.92,202.35 L413.96,202.60 L414.00,202.85 L414.04,203.10 L414.09,203.35 L414.13,203.60 L414.17,203.85 L414.21,204.10 L414.25,204.35 L414.30,204.60 L414.33,204.85 L414.37,205.10 L414.41,205.35 L414.44,205.60 L414.48,205.85 L414.51,206.10 L414.55,206.35 L414.58,206.60 L414.61,206.85 L414.65,207.10 L414.68,207.35 L414.71,207.60 L414.75,207.85 L414.78,208.10 L414.81,208.35 L414.84,208.60 L414.87,208.85 L414.90,209.10 L414.93,209.35 L414.96,209.60 L414.98,209.85 L415.01,210.10 L415.04,210.35 L415.06,210.60 L415.09,210.85 L415.11,211.10 L415.14,211.35 L415.17,211.60 L415.19,211.85 L415.22,212.10 L415.24,212.35 L415.26,212.60 L415.29,212.85 L415.31,213.10 L415.34,213.35 L415.36,213.60 L415.38,213.85 L415.40,214.10 L415.43,214.35 L415.45,214.60 L415.47,214.85 L415.49,215.10 L415.51,215.35 L415.53,215.60 L415.55,215.85 L415.57,216.10 L415.59,216.35 L415.61,216.60 L415.62,216.85 L415.64,217.10 L415.66,217.35 L415.68,217.60 L415.69,217.85 L415.71,218.10 L415.72,218.35 L415.74,218.60 L415.75,218.85 L415.76,219.10 L415.78,219.35 L415.79,219.60 L415.81,219.85 L415.82,220.10 L415.83,220.35 L415.85,220.60 L415.86,220.85 L415.87,221.10 L415.89,221.35 L415.90,221.60 L415.91,221.85 L415.92,222.10 L415.94,222.35 L415.95,222.60 L415.96,222.85 L415.97,223.10 L415.98,223.35 L415.99,223.60 L416.01,223.85 L416.02,224.10 L416.03,224.35 L416.04,224.60 L416.05,224.85 L416.06,225.10 L416.07,225.35 L416.07,225.60 L416.08,225.85 L416.09,226.10 L416.10,226.35 L416.11,226.60 L416.12,226.85 L416.12,227.10 L416.13,227.35 L416.14,227.60 L416.15,227.85 L416.15,228.10 L416.16,228.35 L416.17,228.60 L416.17,228.85 L416.18,229.10 L416.18,229.35 L416.19,229.60 L416.20,229.85 L416.20,230.10 L416.21,230.35 L416.21,230.60 L416.22,230.85 L416.22,231.10 L416.23,231.35 L416.23,231.60 L416.24,231.85 L416.24,232.10 L416.25,232.35 L416.25,232.60 L416.26,232.85 L416.26,233.10 L416.27,233.35 L416.27,233.60 L416.27,233.85 L416.28,234.10 L416.28,234.35 L416.28,234.60 L416.29,234.85 L416.29,235.10 L416.29,235.35 L416.30,235.60 L416.30,235.85 L416.30,236.10 L416.30,236.35 L416.31,236.60 L416.31,236.85 L416.31,237.10 L416.31,237.35 L416.31,237.60 L416.32,237.85 L416.32,238.10 L416.32,238.35 L416.32,238.60 L416.32,238.85 L416.32,239.10 L416.32,239.35 L416.33,239.60 L416.33,239.85 L416.33,240.10 L416.33,240.35 L416.33,240.60 L416.33,240.85 L416.33,241.10 L416.33,241.35 L416.34,241.60 L416.34,241.85 L416.34,242.10 L416.34,242.35 L416.34,242.60 L416.34,242.85 L416.34,243.10 L416.35,243.35 L416.35,243.60 L416.35,243.85 L416.35,244.10 L416.35,244.35 L416.36,244.60 L416.36,244.85 L416.40,245.10 L416.40,245.10 L416.44,244.85 L416.44,244.60 L416.45,244.35 L416.45,244.10 L416.45,243.85 L416.45,243.60 L416.45,243.35 L416.46,243.10 L416.46,242.85 L416.46,242.60 L416.46,242.35 L416.46,242.10 L416.46,241.85 L416.46,241.60 L416.47,241.35 L416.47,241.10 L416.47,240.85 L416.47,240.60 L416.47,240.35 L416.47,240.10 L416.47,239.85 L416.47,239.60 L416.48,239.35 L416.48,239.10 L416.48,238.85 L416.48,238.60 L416.48,238.35 L416.48,238.10 L416.48,237.85 L416.49,237.60 L416.49,237.35 L416.49,237.10 L416.49,236.85 L416.49,236.60 L416.50,236.35 L416.50,236.10 L416.50,235.85 L416.50,235.60 L416.51,235.35 L416.51,235.10 L416.51,234.85 L416.52,234.60 L416.52,234.35 L416.52,234.10 L416.53,233.85 L416.53,233.60 L416.53,233.35 L416.54,233.10 L416.54,232.85 L416.55,232.60 L416.55,232.35 L416.56,232.10 L416.56,231.85 L416.57,231.60 L416.57,231.35 L416.58,231.10 L416.58,230.85 L416.59,230.60 L416.59,230.35 L416.60,230.10 L416.60,229.85 L416.61,229.60 L416.62,229.35 L416.62,229.10 L416.63,228.85 L416.63,228.60 L416.64,228.35 L416.65,228.10 L416.65,227.85 L416.66,227.60 L416.67,227.35 L416.68,227.10 L416.68,226.85 L416.69,226.60 L416.70,226.35 L416.71,226.10 L416.72,225.85 L416.73,225.60 L416.73,225.35 L416.74,225.10 L416.75,224.85 L416.76,224.60 L416.77,224.35 L416.78,224.10 L416.79,223.85 L416.81,223.60 L416.82,223.35 L416.83,223.10 L416.84,222.85 L416.85,222.60 L416.86,222.35 L416.88,222.10 L416.89,221.85 L416.90,221.60 L416.91,221.35 L416.93,221.10 L416.94,220.85 L416.95,220.60 L416.97,220.35 L416.98,220.10 L416.99,219.85 L417.01,219.60 L417.02,219.35 L417.04,219.10 L417.05,218.85 L417.06,218.60 L417.08,218.35 L417.09,218.10 L417.11,217.85 L417.12,217.60 L417.14,217.35 L417.16,217.10 L417.18,216.85 L417.19,216.60 L417.21,216.35 L417.23,216.10 L417.25,215.85 L417.27,215.60 L417.29,215.35 L417.31,215.10 L417.33,214.85 L417.35,214.60 L417.37,214.35 L417.40,214.10 L417.42,213.85 L417.44,213.60 L417.46,213.35 L417.49,213.10 L417.51,212.85 L417.54,212.60 L417.56,212.35 L417.58,212.10 L417.61,211.85 L417.63,211.60 L417.66,211.35 L417.69,211.10 L417.71,210.85 L417.74,210.60 L417.76,210.35 L417.79,210.10 L417.82,209.85 L417.84,209.60 L417.87,209.35 L417.90,209.10 L417.93,208.85 L417.96,208.60 L417.99,208.35 L418.02,208.10 L418.05,207.85 L418.09,207.60 L418.12,207.35 L418.15,207.10 L418.19,206.85 L418.22,206.60 L418.25,206.35 L418.29,206.10 L418.32,205.85 L418.36,205.60 L418.39,205.35 L418.43,205.10 L418.47,204.85 L418.50,204.60 L418.55,204.35 L418.59,204.10 L418.63,203.85 L418.67,203.60 L418.71,203.35 L418.76,203.10 L418.80,202.85 L418.84,202.60 L418.88,202.35 L418.92,202.10 L418.96,201.85 L418.99,201.60 L419.03,201.35 L419.06,201.10 L419.08,200.85 L419.11,200.60 L419.13,200.35 L419.15,200.10 L419.16,199.85 L419.18,199.60 L419.19,199.35 L419.21,199.10 L419.22,198.85 L419.24,198.60 L419.26,198.35 L419.29,198.10 L419.32,197.85 L419.37,197.60 L419.43,197.35 L419.50,197.10 L419.59,196.85 L419.68,196.60 L419.79,196.35 L419.89,196.10 L420.00,195.85 L420.12,195.60 L420.23,195.35 L420.34,195.10 L420.45,194.85 L420.56,194.60 L420.66,194.35 L420.76,194.10 L420.87,193.85 L420.97,193.60 L421.08,193.35 L421.18,193.10 L421.29,192.85 L421.40,192.60 L421.51,192.35 L421.62,192.10 L421.73,191.85 L421.84,191.60 L421.95,191.35 L422.06,191.10 L422.16,190.85 L422.27,190.60 L422.39,190.35 L422.50,190.10 L422.61,189.85 L422.72,189.60 L422.83,189.35 L422.95,189.10 L423.06,188.85 L423.16,188.60 L423.27,188.35 L423.37,188.10 L423.47,187.85 L423.56,187.60 L423.65,187.35 L423.74,187.10 L423.83,186.85 L423.91,186.60 L423.99,186.35 L424.07,186.10 L424.15,185.85 L424.22,185.60 L424.30,185.35 L424.37,185.10 L424.45,184.85 L424.52,184.60 L424.60,184.35 L424.67,184.10 L424.74,183.85 L424.81,183.60 L424.88,183.35 L424.94,183.10 L425.00,182.85 L425.06,182.60 L425.12,182.35 L425.18,182.10 L425.25,181.85 L425.32,181.60 L425.39,181.35 L425.47,181.10 L425.56,180.85 L425.66,180.60 L425.77,180.35 L425.89,180.10 L426.04,179.85 L426.20,179.60 L426.38,179.35 L426.57,179.10 L426.77,178.85 L426.99,178.60 L427.21,178.35 L427.44,178.10 L427.67,177.85 L427.91,177.60 L428.16,177.35 L428.40,177.10 L428.65,176.85 L428.91,176.60 L429.20,176.35 L429.49,176.10 L429.80,175.85 L430.11,175.60 L430.44,175.35 L430.77,175.10 L431.11,174.85 L431.44,174.60 L431.78,174.35 L432.12,174.10 L432.45,173.85 L432.77,173.60 L433.09,173.35 L433.40,173.10 L433.71,172.85 L434.01,172.60 L434.32,172.35 L434.62,172.10 L434.93,171.85 L435.24,171.60 L435.55,171.35 L435.87,171.10 L436.20,170.85 L436.54,170.60 L436.89,170.35 L437.25,170.10 L437.63,169.85 L438.02,169.60 L438.42,169.35 L438.84,169.10 L439.27,168.85 L439.72,168.60 L440.17,168.35 L440.64,168.10 L441.11,167.85 L441.60,167.60 L442.11,167.35 L442.65,167.10 L443.22,166.85 L443.81,166.60 L444.40,166.35 L445.00,166.10 L445.61,165.85 L446.21,165.60 L446.79,165.35 L447.36,165.10 L447.91,164.85 L448.44,164.60 L448.92,164.35 L449.38,164.10 L449.85,163.85 L450.34,163.60 L450.82,163.35 L451.28,163.10 L451.71,162.85 L452.08,162.60 L452.38,162.35 L452.60,162.10 L452.72,161.85 L452.79,161.60 L452.87,161.35 L452.93,161.10 L453.00,160.85 L453.05,160.60 L453.11,160.35 L453.15,160.10 L453.19,159.85 L453.22,159.60 L453.25,159.35 L453.27,159.10 L453.29,158.85 L453.30,158.60 L453.30,158.35 L453.26,158.10 L453.16,157.85 L453.02,157.60 L452.85,157.35 L452.66,157.10 L452.46,156.85 L452.26,156.60 L452.08,156.35 L451.92,156.10 L451.80,155.85 L451.72,155.60 L451.70,155.35 L451.75,155.10 L451.85,154.85 L452.00,154.60 L452.18,154.35 L452.38,154.10 L452.58,153.85 L452.78,153.60 L452.97,153.35 L453.12,153.10 L453.24,152.85 L453.29,152.60 L453.30,152.35 L453.29,152.10 L453.27,151.85 L453.24,151.60 L453.20,151.35 L453.16,151.10 L453.11,150.85 L453.06,150.60 L453.01,150.35 L452.95,150.10 L452.89,149.85 L452.83,149.60 L452.78,149.35 L452.72,149.10 L452.67,148.85 L452.61,148.60 L452.56,148.35 L452.49,148.10 L452.43,147.85 L452.37,147.60 L452.30,147.35 L452.22,147.10 L452.15,146.85 L452.07,146.60 L451.99,146.35 L451.90,146.10 L451.82,145.85 L451.72,145.60 L451.62,145.35 L451.52,145.10 L451.40,144.85 L451.27,144.60 L451.13,144.35 L450.96,144.10 L450.76,143.85 L450.52,143.60 L450.25,143.35 L449.96,143.10 L449.66,142.85 L449.34,142.60 L449.03,142.35 L448.72,142.10 L448.42,141.85 L448.11,141.60 L447.80,141.35 L447.48,141.10 L447.15,140.85 L446.82,140.60 L446.48,140.35 L446.14,140.10 L445.80,139.85 L445.45,139.60 L445.10,139.35 L444.75,139.10 L444.39,138.85 L444.04,138.60 L443.69,138.35 L443.33,138.10 L442.98,137.85 L442.62,137.60 L442.25,137.35 L441.89,137.10 L441.52,136.85 L441.15,136.60 L440.78,136.35 L440.40,136.10 L440.02,135.85 L439.64,135.60 L439.25,135.35 L438.86,135.10 L438.46,134.85 L438.05,134.60 L437.64,134.35 L437.22,134.10 L436.79,133.85 L436.36,133.60 L435.92,133.35 L435.49,133.10 L435.06,132.85 L434.62,132.60 L434.20,132.35 L433.78,132.10 L433.36,131.85 L432.96,131.60 L432.56,131.35 L432.16,131.10 L431.75,130.85 L431.34,130.60 L430.93,130.35 L430.52,130.10 L430.12,129.85 L429.73,129.60 L429.35,129.35 L428.98,129.10 L428.63,128.85 L428.30,128.60 L427.99,128.35 L427.71,128.10 L427.45,127.85 L427.19,127.60 L426.95,127.35 L426.71,127.10 L426.47,126.85 L426.25,126.60 L426.04,126.35 L425.83,126.10 L425.64,125.85 L425.46,125.60 L425.29,125.35 L425.13,125.10 L424.98,124.85 L424.85,124.60 L424.73,124.35 L424.61,124.10 L424.48,123.85 L424.36,123.60 L424.25,123.35 L424.14,123.10 L424.03,122.85 L423.93,122.60 L423.84,122.35 L423.77,122.10 L423.70,121.85 L423.65,121.60 L423.62,121.35 L423.60,121.10 L423.60,120.85 L423.61,120.60 L423.62,120.35 L423.64,120.10 L423.66,119.85 L423.69,119.60 L423.72,119.35 L423.76,119.10 L423.80,118.85 L423.85,118.60 L423.90,118.35 L423.95,118.10 L424.01,117.85 L424.07,117.60 L424.15,117.35 L424.29,117.10 L424.46,116.85 L424.66,116.60 L424.86,116.35 L425.04,116.10 L425.19,115.85 L425.35,115.60 L425.51,115.35 L425.68,115.10 L425.85,114.85 L426.00,114.60 L426.13,114.35 L426.25,114.10 L426.33,113.85 L426.39,113.60 L426.40,113.35 L426.40,113.10 L426.39,112.85 L426.37,112.60 L426.35,112.35 L426.33,112.10 L426.30,111.85 L426.27,111.60 L426.23,111.35 L426.20,111.10 L426.16,110.85 L426.12,110.60 L426.07,110.35 L426.01,110.10 L425.93,109.85 L425.83,109.60 L425.73,109.35 L425.61,109.10 L425.50,108.85 L425.38,108.60 L425.27,108.35 L425.16,108.10 L425.05,107.85 L424.94,107.60 L424.83,107.35 L424.72,107.10 L424.60,106.85 L424.48,106.60 L424.35,106.35 L424.21,106.10 L424.07,105.85 L423.91,105.60 L423.74,105.35 L423.56,105.10 L423.37,104.85 L423.17,104.60 L422.97,104.35 L422.77,104.10 L422.57,103.85 L422.38,103.60 L422.19,103.35 L422.00,103.10 L421.82,102.85 L421.63,102.60 L421.45,102.35 L421.27,102.10 L421.08,101.85 L420.90,101.60 L420.71,101.35 L420.52,101.10 L420.33,100.85 L420.13,100.60 L419.94,100.35 L419.74,100.10 L419.54,99.85 L419.35,99.60 L419.16,99.35 L418.99,99.10 L418.83,98.85 L418.68,98.60 L418.53,98.35 L418.39,98.10 L418.25,97.85 L418.12,97.60 L418.00,97.35 L417.88,97.10 L417.78,96.85 L417.68,96.60 L417.60,96.35 L417.53,96.10 L417.46,95.85 L417.39,95.60 L417.33,95.35 L417.28,95.10 L417.23,94.85 L417.18,94.60 L417.13,94.35 L417.08,94.10 L417.04,93.85 L416.99,93.60 L416.95,93.35 L416.91,93.10 L416.87,92.85 L416.83,92.60 L416.79,92.35 L416.76,92.10 L416.73,91.85 L416.71,91.60 L416.69,91.35 L416.67,91.10 L416.65,90.85 L416.64,90.60 L416.62,90.35 L416.61,90.10 L416.60,89.85 L416.58,89.60 L416.57,89.35 L416.56,89.10 L416.55,88.85 L416.54,88.60 L416.53,88.35 L416.52,88.10 L416.52,87.85 L416.51,87.60 L416.50,87.35 L416.49,87.10 L416.48,86.85 L416.47,86.60 L416.46,86.35 L416.45,86.10 L416.44,85.85 L416.40,85.60 Z" fill="#2e9d92" stroke="#3a3a3a" stroke-width="1.0" stroke-linejoin="round"/>
<line x1="416.40" y1="106.40" x2="416.40" y2="200.00" stroke="#333333" stroke-width="0.7"/>
<line x1="416.40" y1="141.1" x2="416.40" y2="166.0" stroke="#383838" stroke-width="2.5"/>
<circle cx="416.40" cy="152.7" r="1.0" fill="#f4f4f4"/>
<line x1="510.00" y1="38.6" x2="510.00" y2="77.90" stroke="#606060" stroke-width="1.1"/>
<line x1="510.00" y1="227.80" x2="510.00" y2="269.2" stroke="#606060" stroke-width="1.1"/>
<path d="M510.00,77.60 L509.96,77.85 L509.95,78.10 L509.94,78.35 L509.93,78.60 L509.92,78.85 L509.92,79.10 L509.91,79.35 L509.91,79.60 L509.90,79.85 L509.89,80.10 L509.89,80.35 L509.88,80.60 L509.88,80.85 L509.87,81.10 L509.86,81.35 L509.86,81.60 L509.85,81.85 L509.84,82.10 L509.84,82.35 L509.83,82.60 L509.82,82.85 L509.81,83.10 L509.80,83.35 L509.79,83.60 L509.78,83.85 L509.76,84.10 L509.75,84.35 L509.74,84.60 L509.72,84.85 L509.71,85.10 L509.69,85.35 L509.68,85.60 L509.66,85.85 L509.64,86.10 L509.62,86.35 L509.60,86.60 L509.57,86.85 L509.55,87.10 L509.52,87.35 L509.49,87.60 L509.45,87.85 L509.42,88.10 L509.39,88.35 L509.35,88.60 L509.32,88.85 L509.29,89.10 L509.25,89.35 L509.21,89.60 L509.17,89.85 L509.13,90.10 L509.09,90.35 L509.05,90.60 L509.01,90.85 L508.97,91.10 L508.92,91.35 L508.88,91.60 L508.84,91.85 L508.81,92.10 L508.77,92.35 L508.74,92.60 L508.70,92.85 L508.67,93.10 L508.64,93.35 L508.62,93.60 L508.59,93.85 L508.56,94.10 L508.53,94.35 L508.51,94.60 L508.48,94.85 L508.45,95.10 L508.43,95.35 L508.40,95.60 L508.37,95.85 L508.34,96.10 L508.31,96.35 L508.27,96.60 L508.24,96.85 L508.21,97.10 L508.17,97.35 L508.14,97.60 L508.10,97.85 L508.06,98.10 L508.03,98.35 L507.99,98.60 L507.95,98.85 L507.91,99.10 L507.87,99.35 L507.83,99.60 L507.79,99.85 L507.75,100.10 L507.71,100.35 L507.67,100.60 L507.63,100.85 L507.58,101.10 L507.54,101.35 L507.49,101.60 L507.45,101.85 L507.40,102.10 L507.35,102.35 L507.31,102.60 L507.26,102.85 L507.21,103.10 L507.16,103.35 L507.11,103.60 L507.06,103.85 L507.01,104.10 L506.96,104.35 L506.91,104.60 L506.86,104.85 L506.81,105.10 L506.76,105.35 L506.72,105.60 L506.67,105.85 L506.63,106.10 L506.59,106.35 L506.55,106.60 L506.51,106.85 L506.47,107.10 L506.42,107.35 L506.38,107.60 L506.34,107.85 L506.30,108.10 L506.25,108.35 L506.20,108.60 L506.15,108.85 L506.09,109.10 L506.04,109.35 L505.98,109.60 L505.91,109.85 L505.85,110.10 L505.79,110.35 L505.72,110.60 L505.66,110.85 L505.59,111.10 L505.53,111.35 L505.46,111.60 L505.40,111.85 L505.34,112.10 L505.28,112.35 L505.22,112.60 L505.17,112.85 L505.12,113.10 L505.07,113.35 L505.02,113.60 L504.97,113.85 L504.93,114.10 L504.88,114.35 L504.84,114.60 L504.79,114.85 L504.75,115.10 L504.70,115.35 L504.66,115.60 L504.61,115.85 L504.56,116.10 L504.51,116.35 L504.46,116.60 L504.40,116.85 L504.35,117.10 L504.29,117.35 L504.23,117.60 L504.16,117.85 L504.10,118.10 L504.03,118.35 L503.96,118.60 L503.89,118.85 L503.82,119.10 L503.74,119.35 L503.66,119.60 L503.57,119.85 L503.48,120.10 L503.39,120.35 L503.29,120.60 L503.18,120.85 L503.06,121.10 L502.92,121.35 L502.76,121.60 L502.60,121.85 L502.42,122.10 L502.23,122.35 L502.04,122.60 L501.84,122.85 L501.64,123.10 L501.43,123.35 L501.23,123.60 L501.03,123.85 L500.83,124.10 L500.64,124.35 L500.45,124.60 L500.26,124.85 L500.06,125.10 L499.87,125.35 L499.67,125.60 L499.47,125.85 L499.27,126.10 L499.08,126.35 L498.88,126.60 L498.68,126.85 L498.49,127.10 L498.30,127.35 L498.12,127.60 L497.94,127.85 L497.76,128.10 L497.58,128.35 L497.41,128.60 L497.24,128.85 L497.07,129.10 L496.90,129.35 L496.73,129.60 L496.57,129.85 L496.41,130.10 L496.25,130.35 L496.09,130.60 L495.93,130.85 L495.78,131.10 L495.63,131.35 L495.48,131.60 L495.34,131.85 L495.20,132.10 L495.06,132.35 L494.93,132.60 L494.79,132.85 L494.66,133.10 L494.53,133.35 L494.40,133.60 L494.27,133.85 L494.13,134.10 L494.00,134.35 L493.87,134.60 L493.73,134.85 L493.59,135.10 L493.47,135.35 L493.34,135.60 L493.22,135.85 L493.09,136.10 L492.95,136.35 L492.79,136.60 L492.62,136.85 L492.41,137.10 L492.15,137.35 L491.84,137.60 L491.48,137.85 L491.09,138.10 L490.67,138.35 L490.24,138.60 L489.80,138.85 L489.37,139.10 L488.94,139.35 L488.54,139.60 L488.13,139.85 L487.72,140.10 L487.30,140.35 L486.87,140.60 L486.44,140.85 L486.01,141.10 L485.58,141.35 L485.15,141.60 L484.72,141.85 L484.29,142.10 L483.87,142.35 L483.45,142.60 L483.04,142.85 L482.64,143.10 L482.24,143.35 L481.84,143.60 L481.44,143.85 L481.05,144.10 L480.65,144.35 L480.26,144.60 L479.88,144.85 L479.50,145.10 L479.12,145.35 L478.75,145.60 L478.39,145.85 L478.04,146.10 L477.70,146.35 L477.37,146.60 L477.03,146.85 L476.68,147.10 L476.33,147.35 L475.97,147.60 L475.63,147.85 L475.29,148.10 L474.96,148.35 L474.65,148.60 L474.36,148.85 L474.09,149.10 L473.86,149.35 L473.65,149.60 L473.48,149.85 L473.35,150.10 L473.23,150.35 L473.11,150.60 L473.00,150.85 L472.89,151.10 L472.78,151.35 L472.69,151.60 L472.60,151.85 L472.52,152.10 L472.45,152.35 L472.40,152.60 L472.35,152.85 L472.32,153.10 L472.30,153.35 L472.30,153.60 L472.33,153.85 L472.40,154.10 L472.49,154.35 L472.61,154.60 L472.76,154.85 L472.92,155.10 L473.11,155.35 L473.31,155.60 L473.52,155.85 L473.75,156.10 L473.98,156.35 L474.22,156.60 L474.46,156.85 L474.70,157.10 L474.98,157.35 L475.29,157.60 L475.65,157.85 L476.04,158.10 L476.45,158.35 L476.90,158.60 L477.36,158.85 L477.84,159.10 L478.34,159.35 L478.84,159.60 L479.36,159.85 L479.87,160.10 L480.39,160.35 L480.91,160.60 L481.46,160.85 L482.05,161.10 L482.66,161.35 L483.28,161.60 L483.91,161.85 L484.52,162.10 L485.12,162.35 L485.72,162.60 L486.33,162.85 L486.94,163.10 L487.53,163.35 L488.09,163.60 L488.61,163.85 L489.08,164.10 L489.49,164.35 L489.88,164.60 L490.24,164.85 L490.60,165.10 L490.97,165.35 L491.36,165.60 L491.78,165.85 L492.21,166.10 L492.66,166.35 L493.11,166.60 L493.57,166.85 L494.03,167.10 L494.48,167.35 L494.93,167.60 L495.36,167.85 L495.78,168.10 L496.18,168.35 L496.56,168.60 L496.91,168.85 L497.22,169.10 L497.53,169.35 L497.82,169.60 L498.11,169.85 L498.38,170.10 L498.65,170.35 L498.90,170.60 L499.15,170.85 L499.39,171.10 L499.62,171.35 L499.85,171.60 L500.06,171.85 L500.28,172.10 L500.48,172.35 L500.68,172.60 L500.87,172.85 L501.06,173.10 L501.24,173.35 L501.41,173.60 L501.58,173.85 L501.75,174.10 L501.91,174.35 L502.07,174.60 L502.22,174.85 L502.37,175.10 L502.52,175.35 L502.67,175.60 L502.81,175.85 L502.96,176.10 L503.10,176.35 L503.24,176.60 L503.38,176.85 L503.51,177.10 L503.65,177.35 L503.78,177.60 L503.91,177.85 L504.03,178.10 L504.16,178.35 L504.28,178.60 L504.40,178.85 L504.52,179.10 L504.63,179.35 L504.74,179.60 L504.86,179.85 L504.96,180.10 L505.07,180.35 L505.18,180.60 L505.28,180.85 L505.38,181.10 L505.48,181.35 L505.58,181.60 L505.68,181.85 L505.77,182.10 L505.87,182.35 L505.96,182.60 L506.05,182.85 L506.14,183.10 L506.22,183.35 L506.31,183.60 L506.40,183.85 L506.49,184.10 L506.58,184.35 L506.67,184.60 L506.75,184.85 L506.83,185.10 L506.91,185.35 L506.98,185.60 L507.05,185.85 L507.11,186.10 L507.17,186.35 L507.22,186.60 L507.27,186.85 L507.31,187.10 L507.35,187.35 L507.40,187.60 L507.44,187.85 L507.47,188.10 L507.51,188.35 L507.54,188.60 L507.57,188.85 L507.60,189.10 L507.63,189.35 L507.66,189.60 L507.69,189.85 L507.71,190.10 L507.73,190.35 L507.75,190.60 L507.77,190.85 L507.79,191.10 L507.81,191.35 L507.83,191.60 L507.84,191.85 L507.86,192.10 L507.88,192.35 L507.89,192.60 L507.91,192.85 L507.93,193.10 L507.94,193.35 L507.96,193.60 L507.98,193.85 L507.99,194.10 L508.01,194.35 L508.03,194.60 L508.04,194.85 L508.06,195.10 L508.08,195.35 L508.09,195.60 L508.11,195.85 L508.12,196.10 L508.14,196.35 L508.16,196.60 L508.17,196.85 L508.19,197.10 L508.20,197.35 L508.22,197.60 L508.23,197.85 L508.25,198.10 L508.26,198.35 L508.28,198.60 L508.29,198.85 L508.31,199.10 L508.32,199.35 L508.34,199.60 L508.35,199.85 L508.37,200.10 L508.38,200.35 L508.40,200.60 L508.42,200.85 L508.43,201.10 L508.45,201.35 L508.47,201.60 L508.49,201.85 L508.51,202.10 L508.53,202.35 L508.55,202.60 L508.57,202.85 L508.60,203.10 L508.62,203.35 L508.65,203.60 L508.67,203.85 L508.70,204.10 L508.73,204.35 L508.76,204.60 L508.78,204.85 L508.81,205.10 L508.84,205.35 L508.87,205.60 L508.90,205.85 L508.93,206.10 L508.96,206.35 L508.99,206.60 L509.02,206.85 L509.05,207.10 L509.08,207.35 L509.12,207.60 L509.15,207.85 L509.19,208.10 L509.23,208.35 L509.26,208.60 L509.30,208.85 L509.34,209.10 L509.37,209.35 L509.41,209.60 L509.44,209.85 L509.47,210.10 L509.50,210.35 L509.53,210.60 L509.56,210.85 L509.58,211.10 L509.60,211.35 L509.61,211.60 L509.63,211.85 L509.64,212.10 L509.66,212.35 L509.67,212.60 L509.68,212.85 L509.70,213.10 L509.71,213.35 L509.72,213.60 L509.73,213.85 L509.74,214.10 L509.75,214.35 L509.76,214.60 L509.77,214.85 L509.77,215.10 L509.78,215.35 L509.79,215.60 L509.80,215.85 L509.80,216.10 L509.81,216.35 L509.81,216.60 L509.82,216.85 L509.82,217.10 L509.83,217.35 L509.83,217.60 L509.84,217.85 L509.84,218.10 L509.85,218.35 L509.85,218.60 L509.86,218.85 L509.86,219.10 L509.86,219.35 L509.87,219.60 L509.87,219.85 L509.88,220.10 L509.88,220.35 L509.88,220.60 L509.89,220.85 L509.89,221.10 L509.89,221.35 L509.89,221.60 L509.90,221.85 L509.90,222.10 L509.90,222.35 L509.91,222.60 L509.91,222.85 L509.91,223.10 L509.91,223.35 L509.92,223.60 L509.92,223.85 L509.92,224.10 L509.92,224.35 L509.93,224.60 L509.93,224.85 L509.93,225.10 L509.93,225.35 L509.93,225.60 L509.94,225.85 L509.94,226.10 L509.94,226.35 L509.94,226.60 L509.95,226.85 L509.95,227.10 L509.95,227.35 L509.95,227.60 L509.96,227.85 L510.00,228.10 L510.00,228.10 L510.04,227.85 L510.05,227.60 L510.05,227.35 L510.05,227.10 L510.05,226.85 L510.06,226.60 L510.06,226.35 L510.06,226.10 L510.06,225.85 L510.07,225.60 L510.07,225.35 L510.07,225.10 L510.07,224.85 L510.07,224.60 L510.08,224.35 L510.08,224.10 L510.08,223.85 L510.08,223.60 L510.09,223.35 L510.09,223.10 L510.09,222.85 L510.09,222.60 L510.10,222.35 L510.10,222.10 L510.10,221.85 L510.11,221.60 L510.11,221.35 L510.11,221.10 L510.11,220.85 L510.12,220.60 L510.12,220.35 L510.12,220.10 L510.13,219.85 L510.13,219.60 L510.14,219.35 L510.14,219.10 L510.14,218.85 L510.15,218.60 L510.15,218.35 L510.16,218.10 L510.16,217.85 L510.17,217.60 L510.17,217.35 L510.18,217.10 L510.18,216.85 L510.19,216.60 L510.19,216.35 L510.20,216.10 L510.20,215.85 L510.21,215.60 L510.22,215.35 L510.23,215.10 L510.23,214.85 L510.24,214.60 L510.25,214.35 L510.26,214.10 L510.27,213.85 L510.28,213.60 L510.29,213.35 L510.30,213.10 L510.32,212.85 L510.33,212.60 L510.34,212.35 L510.36,212.10 L510.37,211.85 L510.39,211.60 L510.40,211.35 L510.42,211.10 L510.44,210.85 L510.47,210.60 L510.50,210.35 L510.53,210.10 L510.56,209.85 L510.59,209.60 L510.63,209.35 L510.66,209.10 L510.70,208.85 L510.74,208.60 L510.77,208.35 L510.81,208.10 L510.85,207.85 L510.88,207.60 L510.92,207.35 L510.95,207.10 L510.98,206.85 L511.01,206.60 L511.04,206.35 L511.07,206.10 L511.10,205.85 L511.13,205.60 L511.16,205.35 L511.19,205.10 L511.22,204.85 L511.24,204.60 L511.27,204.35 L511.30,204.10 L511.33,203.85 L511.35,203.60 L511.38,203.35 L511.40,203.10 L511.43,202.85 L511.45,202.60 L511.47,202.35 L511.49,202.10 L511.51,201.85 L511.53,201.60 L511.55,201.35 L511.57,201.10 L511.58,200.85 L511.60,200.60 L511.62,200.35 L511.63,200.10 L511.65,199.85 L511.66,199.60 L511.68,199.35 L511.69,199.10 L511.71,198.85 L511.72,198.60 L511.74,198.35 L511.75,198.10 L511.77,197.85 L511.78,197.60 L511.80,197.35 L511.81,197.10 L511.83,196.85 L511.84,196.60 L511.86,196.35 L511.88,196.10 L511.89,195.85 L511.91,195.60 L511.92,195.35 L511.94,195.10 L511.96,194.85 L511.97,194.60 L511.99,194.35 L512.01,194.10 L512.02,193.85 L512.04,193.60 L512.06,193.35 L512.07,193.10 L512.09,192.85 L512.11,192.60 L512.12,192.35 L512.14,192.10 L512.16,191.85 L512.17,191.60 L512.19,191.35 L512.21,191.10 L512.23,190.85 L512.25,190.60 L512.27,190.35 L512.29,190.10 L512.31,189.85 L512.34,189.60 L512.37,189.35 L512.40,189.10 L512.43,188.85 L512.46,188.60 L512.49,188.35 L512.53,188.10 L512.56,187.85 L512.60,187.60 L512.65,187.35 L512.69,187.10 L512.73,186.85 L512.78,186.60 L512.83,186.35 L512.89,186.10 L512.95,185.85 L513.02,185.60 L513.09,185.35 L513.17,185.10 L513.25,184.85 L513.33,184.60 L513.42,184.35 L513.51,184.10 L513.60,183.85 L513.69,183.60 L513.78,183.35 L513.86,183.10 L513.95,182.85 L514.04,182.60 L514.13,182.35 L514.23,182.10 L514.32,181.85 L514.42,181.60 L514.52,181.35 L514.62,181.10 L514.72,180.85 L514.82,180.60 L514.93,180.35 L515.04,180.10 L515.14,179.85 L515.26,179.60 L515.37,179.35 L515.48,179.10 L515.60,178.85 L515.72,178.60 L515.84,178.35 L515.97,178.10 L516.09,177.85 L516.22,177.60 L516.35,177.35 L516.49,177.10 L516.62,176.85 L516.76,176.60 L516.90,176.35 L517.04,176.10 L517.19,175.85 L517.33,175.60 L517.48,175.35 L517.63,175.10 L517.78,174.85 L517.93,174.60 L518.09,174.35 L518.25,174.10 L518.42,173.85 L518.59,173.60 L518.76,173.35 L518.94,173.10 L519.13,172.85 L519.32,172.60 L519.52,172.35 L519.72,172.10 L519.94,171.85 L520.15,171.60 L520.38,171.35 L520.61,171.10 L520.85,170.85 L521.10,170.60 L521.35,170.35 L521.62,170.10 L521.89,169.85 L522.18,169.60 L522.47,169.35 L522.78,169.10 L523.09,168.85 L523.44,168.60 L523.82,168.35 L524.22,168.10 L524.64,167.85 L525.07,167.60 L525.52,167.35 L525.97,167.10 L526.43,166.85 L526.89,166.60 L527.34,166.35 L527.79,166.10 L528.22,165.85 L528.64,165.60 L529.03,165.35 L529.40,165.10 L529.76,164.85 L530.12,164.60 L530.51,164.35 L530.92,164.10 L531.39,163.85 L531.91,163.60 L532.47,163.35 L533.06,163.10 L533.67,162.85 L534.28,162.60 L534.88,162.35 L535.48,162.10 L536.09,161.85 L536.72,161.60 L537.34,161.35 L537.95,161.10 L538.54,160.85 L539.09,160.60 L539.61,160.35 L540.13,160.10 L540.64,159.85 L541.16,159.60 L541.66,159.35 L542.16,159.10 L542.64,158.85 L543.10,158.60 L543.55,158.35 L543.96,158.10 L544.35,157.85 L544.71,157.60 L545.02,157.35 L545.30,157.10 L545.54,156.85 L545.78,156.60 L546.02,156.35 L546.25,156.10 L546.48,155.85 L546.69,155.60 L546.89,155.35 L547.08,155.10 L547.24,154.85 L547.39,154.60 L547.51,154.35 L547.60,154.10 L547.67,153.85 L547.70,153.60 L547.70,153.35 L547.68,153.10 L547.65,152.85 L547.60,152.60 L547.55,152.35 L547.48,152.10 L547.40,151.85 L547.31,151.60 L547.22,151.35 L547.11,151.10 L547.00,150.85 L546.89,150.60 L546.77,150.35 L546.65,150.10 L546.52,149.85 L546.35,149.60 L546.14,149.35 L545.91,149.10 L545.64,148.85 L545.35,148.60 L545.04,148.35 L544.71,148.10 L544.37,147.85 L544.03,147.60 L543.67,147.35 L543.32,147.10 L542.97,146.85 L542.63,146.60 L542.30,146.35 L541.96,146.10 L541.61,145.85 L541.25,145.60 L540.88,145.35 L540.50,145.10 L540.12,144.85 L539.74,144.60 L539.35,144.35 L538.95,144.10 L538.56,143.85 L538.16,143.60 L537.76,143.35 L537.36,143.10 L536.96,142.85 L536.55,142.60 L536.13,142.35 L535.71,142.10 L535.28,141.85 L534.85,141.60 L534.42,141.35 L533.99,141.10 L533.56,140.85 L533.13,140.60 L532.70,140.35 L532.28,140.10 L531.87,139.85 L531.46,139.60 L531.06,139.35 L530.63,139.10 L530.20,138.85 L529.76,138.60 L529.33,138.35 L528.91,138.10 L528.52,137.85 L528.16,137.60 L527.85,137.35 L527.59,137.10 L527.38,136.85 L527.21,136.60 L527.05,136.35 L526.91,136.10 L526.78,135.85 L526.66,135.60 L526.53,135.35 L526.41,135.10 L526.27,134.85 L526.13,134.60 L526.00,134.35 L525.87,134.10 L525.73,133.85 L525.60,133.60 L525.47,133.35 L525.34,133.10 L525.21,132.85 L525.07,132.60 L524.94,132.35 L524.80,132.10 L524.66,131.85 L524.52,131.60 L524.37,131.35 L524.22,131.10 L524.07,130.85 L523.91,130.60 L523.75,130.35 L523.59,130.10 L523.43,129.85 L523.27,129.60 L523.10,129.35 L522.93,129.10 L522.76,128.85 L522.59,128.60 L522.42,128.35 L522.24,128.10 L522.06,127.85 L521.88,127.60 L521.70,127.35 L521.51,127.10 L521.32,126.85 L521.12,126.60 L520.92,126.35 L520.73,126.10 L520.53,125.85 L520.33,125.60 L520.13,125.35 L519.94,125.10 L519.74,124.85 L519.55,124.60 L519.36,124.35 L519.17,124.10 L518.97,123.85 L518.77,123.60 L518.57,123.35 L518.36,123.10 L518.16,122.85 L517.96,122.60 L517.77,122.35 L517.58,122.10 L517.40,121.85 L517.24,121.60 L517.08,121.35 L516.94,121.10 L516.82,120.85 L516.71,120.60 L516.61,120.35 L516.52,120.10 L516.43,119.85 L516.34,119.60 L516.26,119.35 L516.18,119.10 L516.11,118.85 L516.04,118.60 L515.97,118.35 L515.90,118.10 L515.84,117.85 L515.77,117.60 L515.71,117.35 L515.65,117.10 L515.60,116.85 L515.54,116.60 L515.49,116.35 L515.44,116.10 L515.39,115.85 L515.34,115.60 L515.30,115.35 L515.25,115.10 L515.21,114.85 L515.16,114.60 L515.12,114.35 L515.07,114.10 L515.03,113.85 L514.98,113.60 L514.93,113.35 L514.88,113.10 L514.83,112.85 L514.78,112.60 L514.72,112.35 L514.66,112.10 L514.60,111.85 L514.54,111.60 L514.47,111.35 L514.41,111.10 L514.34,110.85 L514.28,110.60 L514.21,110.35 L514.15,110.10 L514.09,109.85 L514.02,109.60 L513.96,109.35 L513.91,109.10 L513.85,108.85 L513.80,108.60 L513.75,108.35 L513.70,108.10 L513.66,107.85 L513.62,107.60 L513.58,107.35 L513.53,107.10 L513.49,106.85 L513.45,106.60 L513.41,106.35 L513.37,106.10 L513.33,105.85 L513.28,105.60 L513.24,105.35 L513.19,105.10 L513.14,104.85 L513.09,104.60 L513.04,104.35 L512.99,104.10 L512.94,103.85 L512.89,103.60 L512.84,103.35 L512.79,103.10 L512.74,102.85 L512.69,102.60 L512.65,102.35 L512.60,102.10 L512.55,101.85 L512.51,101.60 L512.46,101.35 L512.42,101.10 L512.37,100.85 L512.33,100.60 L512.29,100.35 L512.25,100.10 L512.21,99.85 L512.17,99.60 L512.13,99.35 L512.09,99.10 L512.05,98.85 L512.01,98.60 L511.97,98.35 L511.94,98.10 L511.90,97.85 L511.86,97.60 L511.83,97.35 L511.79,97.10 L511.76,96.85 L511.73,96.60 L511.69,96.35 L511.66,96.10 L511.63,95.85 L511.60,95.60 L511.57,95.35 L511.55,95.10 L511.52,94.85 L511.49,94.60 L511.47,94.35 L511.44,94.10 L511.41,93.85 L511.38,93.60 L511.36,93.35 L511.33,93.10 L511.30,92.85 L511.26,92.60 L511.23,92.35 L511.19,92.10 L511.16,91.85 L511.12,91.60 L511.08,91.35 L511.03,91.10 L510.99,90.85 L510.95,90.60 L510.91,90.35 L510.87,90.10 L510.83,89.85 L510.79,89.60 L510.75,89.35 L510.71,89.10 L510.68,88.85 L510.65,88.60 L510.61,88.35 L510.58,88.10 L510.55,87.85 L510.51,87.60 L510.48,87.35 L510.45,87.10 L510.43,86.85 L510.40,86.60 L510.38,86.35 L510.36,86.10 L510.34,85.85 L510.32,85.60 L510.31,85.35 L510.29,85.10 L510.28,84.85 L510.26,84.60 L510.25,84.35 L510.24,84.10 L510.22,83.85 L510.21,83.60 L510.20,83.35 L510.19,83.10 L510.18,82.85 L510.17,82.60 L510.16,82.35 L510.16,82.10 L510.15,81.85 L510.14,81.60 L510.14,81.35 L510.13,81.10 L510.12,80.85 L510.12,80.60 L510.11,80.35 L510.11,80.10 L510.10,79.85 L510.09,79.60 L510.09,79.35 L510.08,79.10 L510.08,78.85 L510.07,78.60 L510.06,78.35 L510.05,78.10 L510.04,77.85 L510.00,77.60 Z" fill="#e6e0ac" stroke="#3a3a3a" stroke-width="1.0" stroke-linejoin="round"/>
<line x1="510.00" y1="104.50" x2="510.00" y2="195.00" stroke="#333333" stroke-width="0.7"/>
<line x1="510.00" y1="138.3" x2="510.00" y2="161.7" stroke="#383838" stroke-width="2.5"/>
<circle cx="510.00" cy="150.0" r="1.0" fill="#f4f4f4"/>
<line x1="603.60" y1="38.6" x2="603.60" y2="60.90" stroke="#606060" stroke-width="1.1"/>
<line x1="603.60" y1="230.80" x2="603.60" y2="269.4" stroke="#606060" stroke-width="1.1"/>
<path d="M603.60,60.60 L603.55,60.85 L603.55,61.10 L603.54,61.35 L603.54,61.60 L603.53,61.85 L603.53,62.10 L603.53,62.35 L603.52,62.60 L603.52,62.85 L603.51,63.10 L603.51,63.35 L603.51,63.60 L603.50,63.85 L603.50,64.10 L603.50,64.35 L603.50,64.60 L603.49,64.85 L603.49,65.10 L603.49,65.35 L603.48,65.60 L603.48,65.85 L603.48,66.10 L603.48,66.35 L603.47,66.60 L603.47,66.85 L603.46,67.10 L603.46,67.35 L603.46,67.60 L603.45,67.85 L603.45,68.10 L603.44,68.35 L603.44,68.60 L603.43,68.85 L603.43,69.10 L603.42,69.35 L603.42,69.60 L603.41,69.85 L603.41,70.10 L603.40,70.35 L603.40,70.60 L603.39,70.85 L603.38,71.10 L603.38,71.35 L603.37,71.60 L603.36,71.85 L603.36,72.10 L603.35,72.35 L603.34,72.60 L603.34,72.85 L603.33,73.10 L603.32,73.35 L603.31,73.60 L603.31,73.85 L603.30,74.10 L603.29,74.35 L603.28,74.60 L603.27,74.85 L603.26,75.10 L603.25,75.35 L603.24,75.60 L603.23,75.85 L603.21,76.10 L603.20,76.35 L603.19,76.60 L603.18,76.85 L603.16,77.10 L603.15,77.35 L603.13,77.60 L603.12,77.85 L603.11,78.10 L603.09,78.35 L603.08,78.60 L603.06,78.85 L603.04,79.10 L603.03,79.35 L603.01,79.60 L602.99,79.85 L602.97,80.10 L602.96,80.35 L602.94,80.60 L602.92,80.85 L602.89,81.10 L602.87,81.35 L602.85,81.60 L602.83,81.85 L602.80,82.10 L602.78,82.35 L602.76,82.60 L602.73,82.85 L602.70,83.10 L602.68,83.35 L602.65,83.60 L602.62,83.85 L602.59,84.10 L602.55,84.35 L602.52,84.60 L602.48,84.85 L602.44,85.10 L602.40,85.35 L602.35,85.60 L602.31,85.85 L602.26,86.10 L602.21,86.35 L602.17,86.60 L602.12,86.85 L602.07,87.10 L602.02,87.35 L601.97,87.60 L601.93,87.85 L601.88,88.10 L601.84,88.35 L601.79,88.60 L601.74,88.85 L601.70,89.10 L601.65,89.35 L601.60,89.60 L601.56,89.85 L601.51,90.10 L601.46,90.35 L601.41,90.60 L601.37,90.85 L601.32,91.10 L601.27,91.35 L601.22,91.60 L601.17,91.85 L601.12,92.10 L601.07,92.35 L601.02,92.60 L600.96,92.85 L600.91,93.10 L600.85,93.35 L600.79,93.60 L600.73,93.85 L600.68,94.10 L600.62,94.35 L600.56,94.60 L600.51,94.85 L600.46,95.10 L600.41,95.35 L600.36,95.60 L600.32,95.85 L600.29,96.10 L600.25,96.35 L600.21,96.60 L600.17,96.85 L600.13,97.10 L600.09,97.35 L600.06,97.60 L600.02,97.85 L599.99,98.10 L599.96,98.35 L599.94,98.60 L599.92,98.85 L599.91,99.10 L599.90,99.35 L599.90,99.60 L599.91,99.85 L599.92,100.10 L599.93,100.35 L599.95,100.60 L599.97,100.85 L600.00,101.10 L600.03,101.35 L600.05,101.60 L600.08,101.85 L600.11,102.10 L600.15,102.35 L600.19,102.60 L600.23,102.85 L600.28,103.10 L600.33,103.35 L600.39,103.60 L600.45,103.85 L600.50,104.10 L600.56,104.35 L600.62,104.60 L600.67,104.85 L600.72,105.10 L600.77,105.35 L600.83,105.60 L600.88,105.85 L600.94,106.10 L601.00,106.35 L601.06,106.60 L601.11,106.85 L601.16,107.10 L601.22,107.35 L601.26,107.60 L601.31,107.85 L601.35,108.10 L601.38,108.35 L601.41,108.60 L601.44,108.85 L601.47,109.10 L601.49,109.35 L601.52,109.60 L601.54,109.85 L601.56,110.10 L601.58,110.35 L601.59,110.60 L601.60,110.85 L601.60,111.10 L601.59,111.35 L601.58,111.60 L601.57,111.85 L601.55,112.10 L601.52,112.35 L601.49,112.60 L601.46,112.85 L601.43,113.10 L601.39,113.35 L601.36,113.60 L601.32,113.85 L601.29,114.10 L601.24,114.35 L601.19,114.60 L601.14,114.85 L601.08,115.10 L601.02,115.35 L600.95,115.60 L600.89,115.85 L600.81,116.10 L600.74,116.35 L600.67,116.60 L600.59,116.85 L600.51,117.10 L600.43,117.35 L600.34,117.60 L600.24,117.85 L600.15,118.10 L600.05,118.35 L599.96,118.60 L599.86,118.85 L599.76,119.10 L599.66,119.35 L599.56,119.60 L599.46,119.85 L599.36,120.10 L599.26,120.35 L599.15,120.60 L599.05,120.85 L598.94,121.10 L598.83,121.35 L598.72,121.60 L598.60,121.85 L598.49,122.10 L598.37,122.35 L598.25,122.60 L598.14,122.85 L598.02,123.10 L597.91,123.35 L597.79,123.60 L597.68,123.85 L597.56,124.10 L597.44,124.35 L597.31,124.60 L597.17,124.85 L597.02,125.10 L596.87,125.35 L596.70,125.60 L596.52,125.85 L596.32,126.10 L596.08,126.35 L595.82,126.60 L595.51,126.85 L595.18,127.10 L594.83,127.35 L594.45,127.60 L594.06,127.85 L593.65,128.10 L593.24,128.35 L592.81,128.60 L592.39,128.85 L591.97,129.10 L591.55,129.35 L591.14,129.60 L590.71,129.85 L590.27,130.10 L589.81,130.35 L589.35,130.60 L588.87,130.85 L588.39,131.10 L587.91,131.35 L587.42,131.60 L586.94,131.85 L586.46,132.10 L585.98,132.35 L585.52,132.60 L585.07,132.85 L584.62,133.10 L584.19,133.35 L583.75,133.60 L583.32,133.85 L582.89,134.10 L582.46,134.35 L582.04,134.60 L581.62,134.85 L581.20,135.10 L580.79,135.35 L580.39,135.60 L579.99,135.85 L579.60,136.10 L579.22,136.35 L578.85,136.60 L578.49,136.85 L578.13,137.10 L577.78,137.35 L577.43,137.60 L577.09,137.85 L576.75,138.10 L576.42,138.35 L576.09,138.60 L575.76,138.85 L575.44,139.10 L575.12,139.35 L574.80,139.60 L574.49,139.85 L574.17,140.10 L573.86,140.35 L573.54,140.60 L573.21,140.85 L572.89,141.10 L572.57,141.35 L572.26,141.60 L571.95,141.85 L571.65,142.10 L571.36,142.35 L571.08,142.60 L570.81,142.85 L570.56,143.10 L570.33,143.35 L570.12,143.60 L569.91,143.85 L569.71,144.10 L569.52,144.35 L569.33,144.60 L569.15,144.85 L568.98,145.10 L568.81,145.35 L568.65,145.60 L568.50,145.85 L568.36,146.10 L568.22,146.35 L568.09,146.60 L567.97,146.85 L567.86,147.10 L567.75,147.35 L567.65,147.60 L567.55,147.85 L567.46,148.10 L567.37,148.35 L567.28,148.60 L567.20,148.85 L567.12,149.10 L567.04,149.35 L566.97,149.60 L566.89,149.85 L566.82,150.10 L566.74,150.35 L566.67,150.60 L566.58,150.85 L566.50,151.10 L566.41,151.35 L566.35,151.60 L566.31,151.85 L566.30,152.10 L566.35,152.35 L566.45,152.60 L566.59,152.85 L566.77,153.10 L566.98,153.35 L567.21,153.60 L567.45,153.85 L567.70,154.10 L567.95,154.35 L568.25,154.60 L568.62,154.85 L569.04,155.10 L569.50,155.35 L569.99,155.60 L570.51,155.85 L571.04,156.10 L571.57,156.35 L572.10,156.60 L572.61,156.85 L573.14,157.10 L573.70,157.35 L574.27,157.60 L574.84,157.85 L575.43,158.10 L576.01,158.35 L576.59,158.60 L577.16,158.85 L577.72,159.10 L578.28,159.35 L578.84,159.60 L579.40,159.85 L579.97,160.10 L580.53,160.35 L581.08,160.60 L581.64,160.85 L582.19,161.10 L582.73,161.35 L583.26,161.60 L583.79,161.85 L584.30,162.10 L584.80,162.35 L585.30,162.60 L585.78,162.85 L586.27,163.10 L586.75,163.35 L587.22,163.60 L587.69,163.85 L588.15,164.10 L588.61,164.35 L589.05,164.60 L589.49,164.85 L589.91,165.10 L590.31,165.35 L590.71,165.60 L591.08,165.85 L591.44,166.10 L591.79,166.35 L592.13,166.60 L592.46,166.85 L592.78,167.10 L593.10,167.35 L593.40,167.60 L593.70,167.85 L593.99,168.10 L594.27,168.35 L594.55,168.60 L594.82,168.85 L595.09,169.10 L595.35,169.35 L595.60,169.60 L595.86,169.85 L596.11,170.10 L596.36,170.35 L596.61,170.60 L596.85,170.85 L597.09,171.10 L597.32,171.35 L597.54,171.60 L597.76,171.85 L597.96,172.10 L598.16,172.35 L598.34,172.60 L598.51,172.85 L598.66,173.10 L598.81,173.35 L598.94,173.60 L599.07,173.85 L599.20,174.10 L599.31,174.35 L599.43,174.60 L599.53,174.85 L599.64,175.10 L599.74,175.35 L599.84,175.60 L599.94,175.85 L600.03,176.10 L600.12,176.35 L600.21,176.60 L600.30,176.85 L600.38,177.10 L600.46,177.35 L600.54,177.60 L600.61,177.85 L600.69,178.10 L600.76,178.35 L600.83,178.60 L600.89,178.85 L600.95,179.10 L601.01,179.35 L601.07,179.60 L601.12,179.85 L601.17,180.10 L601.23,180.35 L601.28,180.60 L601.34,180.85 L601.40,181.10 L601.46,181.35 L601.53,181.60 L601.60,181.85 L601.68,182.10 L601.77,182.35 L601.86,182.60 L601.96,182.85 L602.05,183.10 L602.14,183.35 L602.23,183.60 L602.32,183.85 L602.40,184.10 L602.47,184.35 L602.53,184.60 L602.58,184.85 L602.61,185.10 L602.65,185.35 L602.68,185.60 L602.71,185.85 L602.74,186.10 L602.77,186.35 L602.79,186.60 L602.82,186.85 L602.84,187.10 L602.86,187.35 L602.87,187.60 L602.89,187.85 L602.89,188.10 L602.90,188.35 L602.90,188.60 L602.90,188.85 L602.89,189.10 L602.88,189.35 L602.87,189.60 L602.86,189.85 L602.84,190.10 L602.82,190.35 L602.80,190.60 L602.78,190.85 L602.76,191.10 L602.74,191.35 L602.72,191.60 L602.70,191.85 L602.68,192.10 L602.66,192.35 L602.64,192.60 L602.62,192.85 L602.61,193.10 L602.59,193.35 L602.58,193.60 L602.56,193.85 L602.55,194.10 L602.54,194.35 L602.52,194.60 L602.51,194.85 L602.50,195.10 L602.48,195.35 L602.47,195.60 L602.46,195.85 L602.44,196.10 L602.43,196.35 L602.42,196.60 L602.41,196.85 L602.39,197.10 L602.38,197.35 L602.37,197.60 L602.35,197.85 L602.34,198.10 L602.33,198.35 L602.31,198.60 L602.30,198.85 L602.29,199.10 L602.28,199.35 L602.26,199.60 L602.25,199.85 L602.24,200.10 L602.22,200.35 L602.21,200.60 L602.20,200.85 L602.18,201.10 L602.17,201.35 L602.16,201.60 L602.14,201.85 L602.13,202.10 L602.11,202.35 L602.09,202.60 L602.07,202.85 L602.05,203.10 L602.03,203.35 L602.01,203.60 L601.99,203.85 L601.97,204.10 L601.94,204.35 L601.93,204.60 L601.91,204.85 L601.89,205.10 L601.88,205.35 L601.87,205.60 L601.85,205.85 L601.84,206.10 L601.83,206.35 L601.82,206.60 L601.81,206.85 L601.80,207.10 L601.80,207.35 L601.80,207.60 L601.81,207.85 L601.82,208.10 L601.84,208.35 L601.87,208.60 L601.89,208.85 L601.93,209.10 L601.96,209.35 L602.00,209.60 L602.04,209.85 L602.07,210.10 L602.11,210.35 L602.15,210.60 L602.18,210.85 L602.21,211.10 L602.24,211.35 L602.27,211.60 L602.30,211.85 L602.34,212.10 L602.37,212.35 L602.40,212.60 L602.43,212.85 L602.47,213.10 L602.50,213.35 L602.53,213.60 L602.56,213.85 L602.60,214.10 L602.63,214.35 L602.66,214.60 L602.69,214.85 L602.73,215.10 L602.76,215.35 L602.79,215.60 L602.82,215.85 L602.85,216.10 L602.88,216.35 L602.92,216.60 L602.95,216.85 L602.99,217.10 L603.03,217.35 L603.06,217.60 L603.10,217.85 L603.13,218.10 L603.16,218.35 L603.19,218.60 L603.22,218.85 L603.25,219.10 L603.28,219.35 L603.30,219.60 L603.32,219.85 L603.34,220.10 L603.35,220.35 L603.36,220.60 L603.37,220.85 L603.38,221.10 L603.38,221.35 L603.39,221.60 L603.40,221.85 L603.40,222.10 L603.41,222.35 L603.42,222.60 L603.42,222.85 L603.43,223.10 L603.43,223.35 L603.44,223.60 L603.44,223.85 L603.45,224.10 L603.45,224.35 L603.46,224.60 L603.46,224.85 L603.46,225.10 L603.47,225.35 L603.47,225.60 L603.48,225.85 L603.48,226.10 L603.49,226.35 L603.49,226.60 L603.49,226.85 L603.50,227.10 L603.50,227.35 L603.51,227.60 L603.51,227.85 L603.51,228.10 L603.52,228.35 L603.52,228.60 L603.52,228.85 L603.53,229.10 L603.53,229.35 L603.54,229.60 L603.54,229.85 L603.54,230.10 L603.55,230.35 L603.55,230.60 L603.56,230.85 L603.60,231.10 L603.60,231.10 L603.64,230.85 L603.65,230.60 L603.65,230.35 L603.66,230.10 L603.66,229.85 L603.66,229.60 L603.67,229.35 L603.67,229.10 L603.68,228.85 L603.68,228.60 L603.68,228.35 L603.69,228.10 L603.69,227.85 L603.69,227.60 L603.70,227.35 L603.70,227.10 L603.71,226.85 L603.71,226.60 L603.71,226.35 L603.72,226.10 L603.72,225.85 L603.73,225.60 L603.73,225.35 L603.74,225.10 L603.74,224.85 L603.74,224.60 L603.75,224.35 L603.75,224.10 L603.76,223.85 L603.76,223.60 L603.77,223.35 L603.77,223.10 L603.78,222.85 L603.78,222.60 L603.79,222.35 L603.80,222.10 L603.80,221.85 L603.81,221.60 L603.82,221.35 L603.82,221.10 L603.83,220.85 L603.84,220.60 L603.85,220.35 L603.86,220.10 L603.88,219.85 L603.90,219.60 L603.92,219.35 L603.95,219.10 L603.98,218.85 L604.01,218.60 L604.04,218.35 L604.07,218.10 L604.10,217.85 L604.14,217.60 L604.17,217.35 L604.21,217.10 L604.25,216.85 L604.28,216.60 L604.32,216.35 L604.35,216.10 L604.38,215.85 L604.41,215.60 L604.44,215.35 L604.47,215.10 L604.51,214.85 L604.54,214.60 L604.57,214.35 L604.60,214.10 L604.64,213.85 L604.67,213.60 L604.70,213.35 L604.73,213.10 L604.77,212.85 L604.80,212.60 L604.83,212.35 L604.86,212.10 L604.90,211.85 L604.93,211.60 L604.96,211.35 L604.99,211.10 L605.02,210.85 L605.05,210.60 L605.09,210.35 L605.13,210.10 L605.16,209.85 L605.20,209.60 L605.24,209.35 L605.27,209.10 L605.31,208.85 L605.33,208.60 L605.36,208.35 L605.38,208.10 L605.39,207.85 L605.40,207.60 L605.40,207.35 L605.40,207.10 L605.39,206.85 L605.38,206.60 L605.37,206.35 L605.36,206.10 L605.35,205.85 L605.33,205.60 L605.32,205.35 L605.31,205.10 L605.29,204.85 L605.27,204.60 L605.26,204.35 L605.23,204.10 L605.21,203.85 L605.19,203.60 L605.17,203.35 L605.15,203.10 L605.13,202.85 L605.11,202.60 L605.09,202.35 L605.07,202.10 L605.06,201.85 L605.04,201.60 L605.03,201.35 L605.02,201.10 L605.00,200.85 L604.99,200.60 L604.98,200.35 L604.96,200.10 L604.95,199.85 L604.94,199.60 L604.92,199.35 L604.91,199.10 L604.90,198.85 L604.89,198.60 L604.87,198.35 L604.86,198.10 L604.85,197.85 L604.83,197.60 L604.82,197.35 L604.81,197.10 L604.79,196.85 L604.78,196.60 L604.77,196.35 L604.76,196.10 L604.74,195.85 L604.73,195.60 L604.72,195.35 L604.70,195.10 L604.69,194.85 L604.68,194.60 L604.66,194.35 L604.65,194.10 L604.64,193.85 L604.62,193.60 L604.61,193.35 L604.59,193.10 L604.58,192.85 L604.56,192.60 L604.54,192.35 L604.52,192.10 L604.50,191.85 L604.48,191.60 L604.46,191.35 L604.44,191.10 L604.42,190.85 L604.40,190.60 L604.38,190.35 L604.36,190.10 L604.34,189.85 L604.33,189.60 L604.32,189.35 L604.31,189.10 L604.30,188.85 L604.30,188.60 L604.30,188.35 L604.31,188.10 L604.31,187.85 L604.33,187.60 L604.34,187.35 L604.36,187.10 L604.38,186.85 L604.41,186.60 L604.43,186.35 L604.46,186.10 L604.49,185.85 L604.52,185.60 L604.55,185.35 L604.59,185.10 L604.62,184.85 L604.67,184.60 L604.73,184.35 L604.80,184.10 L604.88,183.85 L604.97,183.60 L605.06,183.35 L605.15,183.10 L605.24,182.85 L605.34,182.60 L605.43,182.35 L605.52,182.10 L605.60,181.85 L605.67,181.60 L605.74,181.35 L605.80,181.10 L605.86,180.85 L605.92,180.60 L605.97,180.35 L606.03,180.10 L606.08,179.85 L606.13,179.60 L606.19,179.35 L606.25,179.10 L606.31,178.85 L606.37,178.60 L606.44,178.35 L606.51,178.10 L606.59,177.85 L606.66,177.60 L606.74,177.35 L606.82,177.10 L606.90,176.85 L606.99,176.60 L607.08,176.35 L607.17,176.10 L607.26,175.85 L607.36,175.60 L607.46,175.35 L607.56,175.10 L607.67,174.85 L607.77,174.60 L607.89,174.35 L608.00,174.10 L608.13,173.85 L608.26,173.60 L608.39,173.35 L608.54,173.10 L608.69,172.85 L608.86,172.60 L609.04,172.35 L609.24,172.10 L609.44,171.85 L609.66,171.60 L609.88,171.35 L610.11,171.10 L610.35,170.85 L610.59,170.60 L610.84,170.35 L611.09,170.10 L611.34,169.85 L611.60,169.60 L611.85,169.35 L612.11,169.10 L612.38,168.85 L612.65,168.60 L612.93,168.35 L613.21,168.10 L613.50,167.85 L613.80,167.60 L614.10,167.35 L614.42,167.10 L614.74,166.85 L615.07,166.60 L615.41,166.35 L615.76,166.10 L616.12,165.85 L616.49,165.60 L616.89,165.35 L617.29,165.10 L617.71,164.85 L618.15,164.60 L618.59,164.35 L619.05,164.10 L619.51,163.85 L619.98,163.60 L620.45,163.35 L620.93,163.10 L621.42,162.85 L621.90,162.60 L622.40,162.35 L622.90,162.10 L623.41,161.85 L623.94,161.60 L624.47,161.35 L625.01,161.10 L625.56,160.85 L626.12,160.60 L626.67,160.35 L627.23,160.10 L627.80,159.85 L628.36,159.60 L628.92,159.35 L629.48,159.10 L630.04,158.85 L630.61,158.60 L631.19,158.35 L631.77,158.10 L632.36,157.85 L632.93,157.60 L633.50,157.35 L634.06,157.10 L634.59,156.85 L635.10,156.60 L635.63,156.35 L636.16,156.10 L636.69,155.85 L637.21,155.60 L637.70,155.35 L638.16,155.10 L638.58,154.85 L638.95,154.60 L639.25,154.35 L639.50,154.10 L639.75,153.85 L639.99,153.60 L640.22,153.35 L640.43,153.10 L640.61,152.85 L640.75,152.60 L640.85,152.35 L640.90,152.10 L640.89,151.85 L640.85,151.60 L640.79,151.35 L640.70,151.10 L640.62,150.85 L640.53,150.60 L640.46,150.35 L640.38,150.10 L640.31,149.85 L640.23,149.60 L640.16,149.35 L640.08,149.10 L640.00,148.85 L639.92,148.60 L639.83,148.35 L639.74,148.10 L639.65,147.85 L639.55,147.60 L639.45,147.35 L639.34,147.10 L639.23,146.85 L639.11,146.60 L638.98,146.35 L638.84,146.10 L638.70,145.85 L638.55,145.60 L638.39,145.35 L638.22,145.10 L638.05,144.85 L637.87,144.60 L637.68,144.35 L637.49,144.10 L637.29,143.85 L637.08,143.60 L636.87,143.35 L636.64,143.10 L636.39,142.85 L636.12,142.60 L635.84,142.35 L635.55,142.10 L635.25,141.85 L634.94,141.60 L634.63,141.35 L634.31,141.10 L633.99,140.85 L633.66,140.60 L633.34,140.35 L633.03,140.10 L632.71,139.85 L632.40,139.60 L632.08,139.35 L631.76,139.10 L631.44,138.85 L631.11,138.60 L630.78,138.35 L630.45,138.10 L630.11,137.85 L629.77,137.60 L629.42,137.35 L629.07,137.10 L628.71,136.85 L628.35,136.60 L627.98,136.35 L627.60,136.10 L627.21,135.85 L626.81,135.60 L626.41,135.35 L626.00,135.10 L625.58,134.85 L625.16,134.60 L624.74,134.35 L624.31,134.10 L623.88,133.85 L623.45,133.60 L623.01,133.35 L622.58,133.10 L622.13,132.85 L621.68,132.60 L621.22,132.35 L620.74,132.10 L620.26,131.85 L619.78,131.60 L619.29,131.35 L618.81,131.10 L618.33,130.85 L617.85,130.60 L617.39,130.35 L616.93,130.10 L616.49,129.85 L616.06,129.60 L615.65,129.35 L615.23,129.10 L614.81,128.85 L614.39,128.60 L613.96,128.35 L613.55,128.10 L613.14,127.85 L612.75,127.60 L612.37,127.35 L612.02,127.10 L611.69,126.85 L611.38,126.60 L611.12,126.35 L610.88,126.10 L610.68,125.85 L610.50,125.60 L610.33,125.35 L610.18,125.10 L610.03,124.85 L609.89,124.60 L609.76,124.35 L609.64,124.10 L609.52,123.85 L609.41,123.60 L609.29,123.35 L609.18,123.10 L609.06,122.85 L608.95,122.60 L608.83,122.35 L608.71,122.10 L608.60,121.85 L608.48,121.60 L608.37,121.35 L608.26,121.10 L608.15,120.85 L608.05,120.60 L607.94,120.35 L607.84,120.10 L607.74,119.85 L607.64,119.60 L607.54,119.35 L607.44,119.10 L607.34,118.85 L607.24,118.60 L607.15,118.35 L607.05,118.10 L606.96,117.85 L606.86,117.60 L606.77,117.35 L606.69,117.10 L606.61,116.85 L606.53,116.60 L606.46,116.35 L606.39,116.10 L606.31,115.85 L606.25,115.60 L606.18,115.35 L606.12,115.10 L606.06,114.85 L606.01,114.60 L605.96,114.35 L605.91,114.10 L605.88,113.85 L605.84,113.60 L605.81,113.35 L605.77,113.10 L605.74,112.85 L605.71,112.60 L605.68,112.35 L605.65,112.10 L605.63,111.85 L605.62,111.60 L605.61,111.35 L605.60,111.10 L605.60,110.85 L605.61,110.60 L605.62,110.35 L605.64,110.10 L605.66,109.85 L605.68,109.60 L605.71,109.35 L605.73,109.10 L605.76,108.85 L605.79,108.60 L605.82,108.35 L605.85,108.10 L605.89,107.85 L605.94,107.60 L605.98,107.35 L606.04,107.10 L606.09,106.85 L606.14,106.60 L606.20,106.35 L606.26,106.10 L606.32,105.85 L606.37,105.60 L606.43,105.35 L606.48,105.10 L606.53,104.85 L606.58,104.60 L606.64,104.35 L606.70,104.10 L606.75,103.85 L606.81,103.60 L606.87,103.35 L606.92,103.10 L606.97,102.85 L607.01,102.60 L607.05,102.35 L607.09,102.10 L607.12,101.85 L607.15,101.60 L607.17,101.35 L607.20,101.10 L607.23,100.85 L607.25,100.60 L607.27,100.35 L607.28,100.10 L607.29,99.85 L607.30,99.60 L607.30,99.35 L607.29,99.10 L607.28,98.85 L607.26,98.60 L607.24,98.35 L607.21,98.10 L607.18,97.85 L607.14,97.60 L607.11,97.35 L607.07,97.10 L607.03,96.85 L606.99,96.60 L606.95,96.35 L606.91,96.10 L606.88,95.85 L606.84,95.60 L606.79,95.35 L606.74,95.10 L606.69,94.85 L606.64,94.60 L606.58,94.35 L606.52,94.10 L606.47,93.85 L606.41,93.60 L606.35,93.35 L606.29,93.10 L606.24,92.85 L606.18,92.60 L606.13,92.35 L606.08,92.10 L606.03,91.85 L605.98,91.60 L605.93,91.35 L605.88,91.10 L605.83,90.85 L605.79,90.60 L605.74,90.35 L605.69,90.10 L605.64,89.85 L605.60,89.60 L605.55,89.35 L605.50,89.10 L605.46,88.85 L605.41,88.60 L605.36,88.35 L605.32,88.10 L605.27,87.85 L605.23,87.60 L605.18,87.35 L605.13,87.10 L605.08,86.85 L605.03,86.60 L604.99,86.35 L604.94,86.10 L604.89,85.85 L604.85,85.60 L604.80,85.35 L604.76,85.10 L604.72,84.85 L604.68,84.60 L604.65,84.35 L604.61,84.10 L604.58,83.85 L604.55,83.60 L604.52,83.35 L604.50,83.10 L604.47,82.85 L604.44,82.60 L604.42,82.35 L604.40,82.10 L604.37,81.85 L604.35,81.60 L604.33,81.35 L604.31,81.10 L604.28,80.85 L604.26,80.60 L604.24,80.35 L604.23,80.10 L604.21,79.85 L604.19,79.60 L604.17,79.35 L604.16,79.10 L604.14,78.85 L604.12,78.60 L604.11,78.35 L604.09,78.10 L604.08,77.85 L604.07,77.60 L604.05,77.35 L604.04,77.10 L604.02,76.85 L604.01,76.60 L604.00,76.35 L603.99,76.10 L603.97,75.85 L603.96,75.60 L603.95,75.35 L603.94,75.10 L603.93,74.85 L603.92,74.60 L603.91,74.35 L603.90,74.10 L603.89,73.85 L603.89,73.60 L603.88,73.35 L603.87,73.10 L603.86,72.85 L603.86,72.60 L603.85,72.35 L603.84,72.10 L603.84,71.85 L603.83,71.60 L603.82,71.35 L603.82,71.10 L603.81,70.85 L603.80,70.60 L603.80,70.35 L603.79,70.10 L603.79,69.85 L603.78,69.60 L603.78,69.35 L603.77,69.10 L603.77,68.85 L603.76,68.60 L603.76,68.35 L603.75,68.10 L603.75,67.85 L603.74,67.60 L603.74,67.35 L603.74,67.10 L603.73,66.85 L603.73,66.60 L603.72,66.35 L603.72,66.10 L603.72,65.85 L603.72,65.60 L603.71,65.35 L603.71,65.10 L603.71,64.85 L603.70,64.60 L603.70,64.35 L603.70,64.10 L603.70,63.85 L603.69,63.60 L603.69,63.35 L603.69,63.10 L603.68,62.85 L603.68,62.60 L603.67,62.35 L603.67,62.10 L603.67,61.85 L603.66,61.60 L603.66,61.35 L603.65,61.10 L603.65,60.85 L603.60,60.60 Z" fill="#d6c3d6" stroke="#3a3a3a" stroke-width="1.0" stroke-linejoin="round"/>
<line x1="603.60" y1="111.40" x2="603.60" y2="186.20" stroke="#333333" stroke-width="0.7"/>
<line x1="603.60" y1="139.1" x2="603.60" y2="160.2" stroke="#383838" stroke-width="2.5"/>
<circle cx="603.60" cy="150.5" r="1.0" fill="#f4f4f4"/>
<line x1="369.6" y1="153.4" x2="650.4" y2="153.4" stroke="#0a7d0a" stroke-width="1.5" stroke-opacity="0.85" stroke-dasharray="3.648 1.578"/>
<line x1="369.6" y1="151.9" x2="650.4" y2="151.9" stroke="#ffa500" stroke-width="1.5" stroke-opacity="0.7" stroke-dasharray="3.648 1.578"/>
<line x1="369.6" y1="148.6" x2="650.4" y2="148.6" stroke="#800080" stroke-width="1.5" stroke-opacity="0.72" stroke-dasharray="3.648 1.578"/>
<line x1="369.6" y1="150.4" x2="650.4" y2="150.4" stroke="#1010d0" stroke-width="1.55" stroke-linecap="square" />
<line x1="369.6" y1="151.65" x2="650.4" y2="151.65" stroke="#d81e1e" stroke-width="1.55" stroke-linecap="square" />
<path d="M650.4,18.5 H369.6 V291.2 H650.4" fill="none" stroke="#999999" stroke-width="1.5" stroke-linecap="square"/><line x1="650.4" y1="18.5" x2="650.4" y2="291.2" stroke="#bdbdbd" stroke-width="1.5" stroke-linecap="square"/>
<rect x="374.6" y="212.2" width="94.2" height="74.0" rx="2" ry="2" fill="#ffffff" fill-opacity="0.8" stroke="#d6d6d6" stroke-width="0.8"/>
<line x1="378.1" y1="219.8" x2="398.4" y2="219.8" stroke="#0a7d0a" stroke-width="1.6" stroke-opacity="0.85" stroke-dasharray="3.648 1.578"/>
<text x="406.9" y="223.1" class="t">TEM Mean</text>
<line x1="378.1" y1="234.0" x2="398.4" y2="234.0" stroke="#ffa500" stroke-width="1.6" stroke-opacity="0.7" stroke-dasharray="3.648 1.578"/>
<text x="406.9" y="237.3" class="t">VES Mean</text>
<line x1="378.1" y1="248.2" x2="398.4" y2="248.2" stroke="#800080" stroke-width="1.6" stroke-opacity="0.72" stroke-dasharray="3.648 1.578"/>
<text x="406.9" y="251.5" class="t">NBR Mean</text>
<line x1="378.1" y1="262.4" x2="398.4" y2="262.4" stroke="#1010d0" stroke-width="1.6" stroke-linecap="square" />
<text x="406.9" y="265.7" class="t">Grand Mean</text>
<line x1="378.1" y1="276.7" x2="398.4" y2="276.7" stroke="#d81e1e" stroke-width="1.6" stroke-linecap="square" />
<text x="406.9" y="280.0" class="t">Grand Median</text>
<line x1="367.6" y1="270.40" x2="369.6" y2="270.40" stroke="#505050" stroke-width="0.9"/>
<text x="366.0" y="273.90" class="t" text-anchor="end">0.0</text>
<line x1="367.6" y1="224.18" x2="369.6" y2="224.18" stroke="#505050" stroke-width="0.9"/>
<text x="366.0" y="227.68" class="t" text-anchor="end">0.2</text>
<line x1="367.6" y1="177.96" x2="369.6" y2="177.96" stroke="#505050" stroke-width="0.9"/>
<text x="366.0" y="181.46" class="t" text-anchor="end">0.4</text>
<line x1="367.6" y1="131.74" x2="369.6" y2="131.74" stroke="#505050" stroke-width="0.9"/>
<text x="366.0" y="135.24" class="t" text-anchor="end">0.6</text>
<line x1="367.6" y1="85.52" x2="369.6" y2="85.52" stroke="#505050" stroke-width="0.9"/>
<text x="366.0" y="89.02" class="t" text-anchor="end">0.8</text>
<line x1="367.6" y1="39.30" x2="369.6" y2="39.30" stroke="#505050" stroke-width="0.9"/>
<text x="366.0" y="42.80" class="t" text-anchor="end">1.0</text>
<line x1="648.1999999999999" y1="270.40" x2="651.1999999999999" y2="270.40" stroke="#505050" stroke-width="0.9"/>
<text x="652.6" y="273.90" class="t">0.0</text>
<line x1="648.1999999999999" y1="224.18" x2="651.1999999999999" y2="224.18" stroke="#505050" stroke-width="0.9"/>
<text x="652.6" y="227.68" class="t">0.68</text>
<line x1="648.1999999999999" y1="177.96" x2="651.1999999999999" y2="177.96" stroke="#505050" stroke-width="0.9"/>
<text x="652.6" y="181.46" class="t">1.36</text>
<line x1="648.1999999999999" y1="131.74" x2="651.1999999999999" y2="131.74" stroke="#505050" stroke-width="0.9"/>
<text x="652.6" y="135.24" class="t">2.04</text>
<line x1="648.1999999999999" y1="85.52" x2="651.1999999999999" y2="85.52" stroke="#505050" stroke-width="0.9"/>
<text x="652.6" y="89.02" class="t">2.72</text>
<line x1="648.1999999999999" y1="39.30" x2="651.1999999999999" y2="39.30" stroke="#505050" stroke-width="0.9"/>
<text x="652.6" y="42.80" class="t">3.4</text>
<line x1="416.40" y1="291.2" x2="416.40" y2="293.2" stroke="#505050" stroke-width="0.9"/>
<text x="416.40" y="301.6" class="t" text-anchor="middle">TEM</text>
<line x1="510.00" y1="291.2" x2="510.00" y2="293.2" stroke="#505050" stroke-width="0.9"/>
<text x="510.00" y="301.6" class="t" text-anchor="middle">VES</text>
<line x1="603.60" y1="291.2" x2="603.60" y2="293.2" stroke="#505050" stroke-width="0.9"/>
<text x="603.60" y="301.6" class="t" text-anchor="middle">NBR</text>
<text x="510" y="313.2" class="t" text-anchor="middle">Geoelectrical Method</text>
<text x="434.3" y="11.6" class="tt">b</text><text x="447.6" y="11.6" class="tt">After Data Harmonization</text>
<text transform="translate(348.3,154) rotate(-90)" class="t" text-anchor="middle">Scaled Resistivity [0-1]</text>
<text transform="translate(674.6,155.5) rotate(90)" class="t" text-anchor="middle">Log<tspan font-size="7" dy="2">10</tspan><tspan dy="-2"> [Resistivity (Ωm)]</tspan></text>
</svg></body></html>
